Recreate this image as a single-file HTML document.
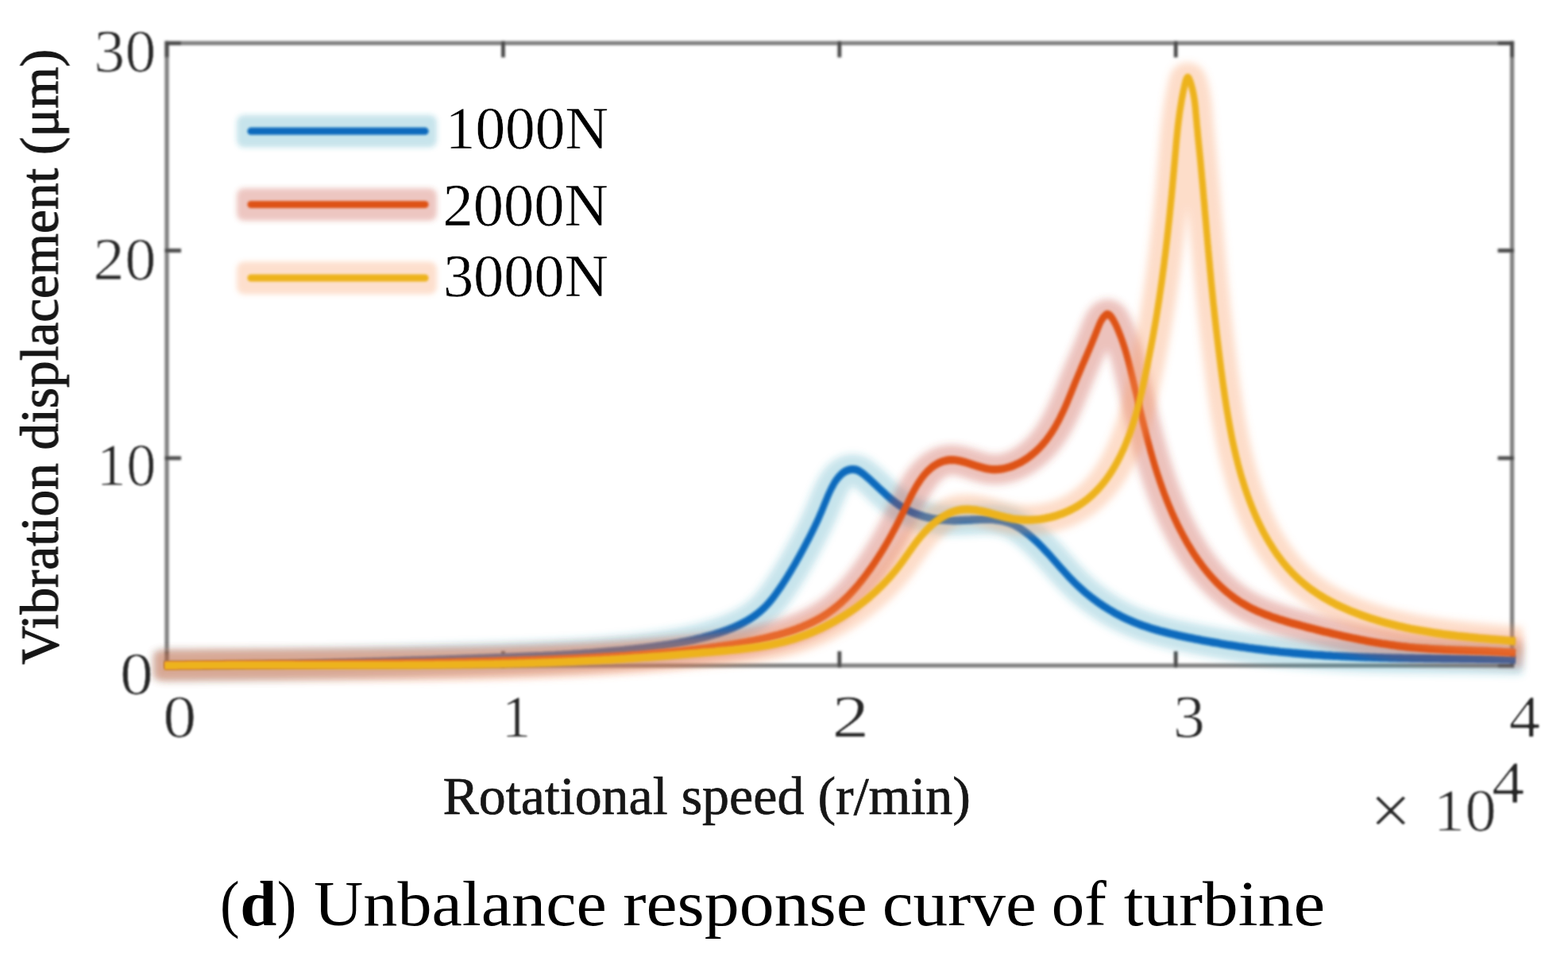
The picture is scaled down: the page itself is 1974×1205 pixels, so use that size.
<!DOCTYPE html>
<html lang="en">
<head>
<meta charset="utf-8">
<title>Unbalance response curve of turbine</title>
<style>
html,body{margin:0;padding:0;background:#fff;}
body{width:1974px;height:1205px;overflow:hidden;font-family:'Liberation Serif','DejaVu Serif',serif;}
svg{display:block;}
</style>
</head>
<body>
<svg width="1974" height="1205" viewBox="0 0 1974 1205" font-family="'Liberation Serif','DejaVu Serif',serif">
<defs><filter id="gb" filterUnits="userSpaceOnUse" x="-1300" y="-1300" width="4600" height="4600"><feGaussianBlur stdDeviation="4.6"/></filter><filter id="lg" filterUnits="userSpaceOnUse" x="-1300" y="-1300" width="4600" height="4600"><feGaussianBlur stdDeviation="3"/></filter><filter id="lb" filterUnits="userSpaceOnUse" x="-1300" y="-1300" width="4600" height="4600"><feGaussianBlur stdDeviation="1.5 1.7"/></filter><filter id="ab" filterUnits="userSpaceOnUse" x="-1300" y="-1300" width="4600" height="4600"><feGaussianBlur stdDeviation="1.35"/></filter><filter id="tb" filterUnits="userSpaceOnUse" x="-1300" y="-1300" width="4600" height="4600"><feGaussianBlur stdDeviation="0.7"/></filter><filter id="th" filterUnits="userSpaceOnUse" x="-1300" y="-1300" width="4600" height="4600"><feMorphology operator="erode" radius="1 0"/><feGaussianBlur stdDeviation="0.8"/></filter><clipPath id="gc"><rect x="194" y="0" width="1723" height="1205"/></clipPath></defs>
<rect width="1974" height="1205" fill="#fff"/>
<g filter="url(#ab)"><rect x="210.0" y="54.3" width="1693.6" height="783.7" fill="none" stroke="#808080" stroke-width="5.3"/><path d="M633.4,51.8 v20.5 M633.4,840.5 v-20.5 M1056.8,51.8 v20.5 M1056.8,840.5 v-20.5 M1480.2,51.8 v20.5 M1480.2,840.5 v-20.5 M207.5,576.8 h20.5 M1906.1,576.8 h-20.5 M207.5,315.5 h20.5 M1906.1,315.5 h-20.5 M207.5,54.3 h20.5 M210.0,51.8 v20.5 M1906.1,54.3 h-20.5 M1903.6,51.8 v20.5 M207.5,838.0 h20.5 M210.0,840.5 v-20.5 M1906.1,838.0 h-20.5 M1903.6,840.5 v-20.5" stroke="#484848" stroke-width="4.8" fill="none"/></g>
<g filter="url(#gb)" clip-path="none"><g clip-path="url(#gc)"><path transform="scale(1.12,1)" d="M184.8,837.5 L187.5,837.5 L190.2,837.5 L192.9,837.5 L195.5,837.5 L198.2,837.5 L200.9,837.5 L203.6,837.5 L206.2,837.5 L208.9,837.5 L211.6,837.5 L214.3,837.5 L216.9,837.5 L219.6,837.4 L222.3,837.4 L225.0,837.4 L227.7,837.4 L230.3,837.4 L233.0,837.4 L235.7,837.3 L238.4,837.3 L241.0,837.3 L243.7,837.3 L246.4,837.2 L249.1,837.2 L251.8,837.2 L254.4,837.1 L257.1,837.1 L259.8,837.1 L262.5,837.0 L265.1,837.0 L267.8,837.0 L270.5,836.9 L273.2,836.9 L275.9,836.9 L278.5,836.8 L281.2,836.8 L283.9,836.7 L286.6,836.7 L289.3,836.6 L291.9,836.6 L294.6,836.5 L297.3,836.5 L300.0,836.4 L302.6,836.4 L305.3,836.3 L308.0,836.3 L310.7,836.2 L313.4,836.2 L316.0,836.1 L318.7,836.0 L321.4,836.0 L324.1,835.9 L326.8,835.9 L329.4,835.8 L332.1,835.7 L334.8,835.7 L337.5,835.6 L340.1,835.5 L342.8,835.5 L345.5,835.4 L348.2,835.3 L350.9,835.3 L353.5,835.2 L356.2,835.1 L358.9,835.0 L361.6,835.0 L364.3,834.9 L366.9,834.8 L369.6,834.7 L372.3,834.7 L375.0,834.6 L377.7,834.5 L380.3,834.4 L383.0,834.4 L385.7,834.3 L388.4,834.2 L391.0,834.1 L393.7,834.0 L396.4,834.0 L399.1,833.9 L401.8,833.8 L404.4,833.7 L407.1,833.6 L409.8,833.5 L412.5,833.4 L415.2,833.4 L417.8,833.3 L420.5,833.2 L423.2,833.1 L425.9,833.0 L428.5,832.9 L431.2,832.8 L433.9,832.7 L436.6,832.6 L439.3,832.5 L441.9,832.4 L444.6,832.4 L447.3,832.3 L450.0,832.2 L452.6,832.1 L455.3,832.0 L458.0,831.9 L460.7,831.8 L463.4,831.7 L466.0,831.6 L468.7,831.5 L471.4,831.4 L474.1,831.3 L476.7,831.2 L479.4,831.1 L482.1,831.0 L484.8,830.9 L487.5,830.8 L490.1,830.7 L492.8,830.6 L495.5,830.5 L498.2,830.4 L500.8,830.3 L503.5,830.2 L506.2,830.1 L508.9,830.0 L511.6,829.9 L514.2,829.8 L516.9,829.7 L519.6,829.6 L522.3,829.5 L524.9,829.4 L527.6,829.3 L530.3,829.2 L533.0,829.1 L535.6,829.0 L538.3,828.9 L541.0,828.8 L543.7,828.7 L546.3,828.6 L549.0,828.5 L551.7,828.4 L554.4,828.3 L557.0,828.2 L559.7,828.1 L562.4,828.0 L565.1,827.8 L567.7,827.7 L570.4,827.6 L573.1,827.5 L575.8,827.4 L578.4,827.3 L581.1,827.2 L583.8,827.1 L586.5,826.9 L589.1,826.8 L591.8,826.7 L594.5,826.6 L597.2,826.4 L599.8,826.3 L602.5,826.2 L605.2,826.0 L607.9,825.9 L610.5,825.8 L613.2,825.6 L615.9,825.5 L618.6,825.3 L621.2,825.2 L623.9,825.0 L626.6,824.9 L629.3,824.7 L631.9,824.5 L634.6,824.4 L637.3,824.2 L639.9,824.0 L642.6,823.8 L645.3,823.7 L648.0,823.5 L650.6,823.3 L653.3,823.1 L656.0,822.9 L658.7,822.7 L661.3,822.5 L664.0,822.3 L666.7,822.0 L669.3,821.8 L672.0,821.6 L674.7,821.4 L677.3,821.1 L680.0,820.9 L682.7,820.6 L685.4,820.4 L688.0,820.1 L690.7,819.8 L693.4,819.6 L696.0,819.3 L698.7,819.0 L701.4,818.7 L704.0,818.4 L706.7,818.1 L709.4,817.8 L712.1,817.5 L714.7,817.2 L717.4,816.9 L720.1,816.5 L722.7,816.2 L725.4,815.8 L728.1,815.5 L730.7,815.1 L733.4,814.7 L736.1,814.3 L738.7,813.9 L741.4,813.5 L744.0,813.1 L746.7,812.6 L749.3,812.2 L752.0,811.7 L754.6,811.2 L757.3,810.7 L759.9,810.2 L762.6,809.7 L765.2,809.1 L767.8,808.6 L770.4,808.0 L773.1,807.4 L775.7,806.8 L778.3,806.1 L780.9,805.5 L783.5,804.8 L786.1,804.1 L788.7,803.3 L791.3,802.6 L793.9,801.8 L796.5,801.0 L799.0,800.2 L801.6,799.3 L804.2,798.4 L806.7,797.5 L809.3,796.6 L811.8,795.6 L814.3,794.6 L816.8,793.6 L819.3,792.5 L821.8,791.4 L824.3,790.2 L826.7,789.0 L829.1,787.8 L831.5,786.5 L833.9,785.2 L836.2,783.8 L838.5,782.3 L840.8,780.8 L843.1,779.3 L845.3,777.6 L847.5,776.0 L849.6,774.2 L851.7,772.4 L853.8,770.5 L855.8,768.6 L857.8,766.6 L859.7,764.5 L861.6,762.3 L863.4,760.1 L865.2,757.8 L867.0,755.4 L868.7,753.0 L870.3,750.5 L872.0,748.0 L873.6,745.5 L875.2,742.9 L876.7,740.4 L878.3,737.8 L879.8,735.3 L881.3,732.7 L882.7,730.1 L884.2,727.6 L885.6,725.0 L887.0,722.4 L888.4,719.8 L889.8,717.2 L891.2,714.7 L892.5,712.1 L893.8,709.5 L895.2,706.9 L896.5,704.3 L897.7,701.8 L899.0,699.2 L900.3,696.6 L901.5,694.1 L902.7,691.5 L904.0,688.9 L905.2,686.4 L906.4,683.8 L907.5,681.3 L908.7,678.8 L909.9,676.2 L911.0,673.7 L912.2,671.1 L913.3,668.6 L914.5,666.0 L915.6,663.4 L916.7,660.8 L917.8,658.1 L918.9,655.4 L920.1,652.7 L921.2,649.9 L922.3,647.1 L923.4,644.2 L924.5,641.3 L925.5,638.3 L926.7,635.2 L927.8,632.2 L928.9,629.1 L930.0,626.0 L931.2,622.9 L932.4,619.9 L933.6,617.0 L934.9,614.1 L936.2,611.3 L937.6,608.6 L939.1,606.0 L940.5,603.6 L942.1,601.3 L943.7,599.2 L945.4,597.3 L947.2,595.6 L949.1,594.2 L951.1,592.9 L953.2,592.0 L955.3,591.3 L957.5,591.0 L959.8,591.0 L962.1,591.5 L964.4,592.4 L966.7,593.8 L969.0,595.6 L971.3,597.6 L973.6,599.7 L975.8,601.9 L977.9,604.0 L980.1,606.2 L982.2,608.4 L984.2,610.5 L986.3,612.7 L988.3,614.8 L990.3,617.0 L992.3,619.1 L994.3,621.1 L996.3,623.2 L998.3,625.2 L1000.3,627.1 L1002.3,629.0 L1004.3,630.9 L1006.4,632.7 L1008.5,634.4 L1010.7,636.1 L1012.8,637.7 L1015.1,639.2 L1017.3,640.7 L1019.6,642.0 L1021.9,643.4 L1024.3,644.6 L1026.7,645.8 L1029.1,646.9 L1031.6,647.9 L1034.1,648.9 L1036.6,649.8 L1039.2,650.6 L1041.7,651.3 L1044.3,652.0 L1046.9,652.6 L1049.6,653.2 L1052.2,653.7 L1054.9,654.1 L1057.5,654.5 L1060.2,654.8 L1062.9,655.0 L1065.7,655.2 L1068.4,655.3 L1071.1,655.3 L1073.9,655.3 L1076.6,655.3 L1079.3,655.2 L1082.1,655.1 L1084.8,654.9 L1087.6,654.8 L1090.3,654.6 L1093.1,654.4 L1095.8,654.3 L1098.5,654.1 L1101.2,654.0 L1104.0,653.9 L1106.6,653.9 L1109.3,653.9 L1112.0,654.0 L1114.6,654.1 L1117.3,654.3 L1119.9,654.6 L1122.5,655.0 L1125.1,655.5 L1127.6,656.0 L1130.1,656.8 L1132.6,657.6 L1135.1,658.5 L1137.5,659.6 L1139.9,660.9 L1142.3,662.3 L1144.6,663.8 L1146.9,665.4 L1149.2,667.2 L1151.4,669.0 L1153.6,670.8 L1155.8,672.8 L1157.9,674.7 L1159.9,676.7 L1162.0,678.7 L1163.9,680.8 L1165.9,682.8 L1167.8,684.9 L1169.7,687.1 L1171.6,689.2 L1173.4,691.3 L1175.2,693.5 L1177.0,695.7 L1178.8,697.9 L1180.6,700.1 L1182.4,702.3 L1184.1,704.5 L1185.9,706.7 L1187.6,709.0 L1189.4,711.2 L1191.1,713.4 L1192.9,715.6 L1194.6,717.9 L1196.4,720.1 L1198.2,722.3 L1200.0,724.5 L1201.8,726.6 L1203.7,728.8 L1205.5,731.0 L1207.4,733.1 L1209.3,735.2 L1211.3,737.3 L1213.2,739.3 L1215.2,741.4 L1217.3,743.4 L1219.3,745.4 L1221.4,747.3 L1223.5,749.3 L1225.6,751.2 L1227.8,753.1 L1230.0,754.9 L1232.2,756.7 L1234.4,758.5 L1236.6,760.3 L1238.9,762.0 L1241.2,763.7 L1243.5,765.3 L1245.8,767.0 L1248.1,768.5 L1250.4,770.1 L1252.8,771.6 L1255.2,773.1 L1257.6,774.5 L1259.9,775.9 L1262.3,777.2 L1264.8,778.5 L1267.2,779.8 L1269.6,781.0 L1272.0,782.2 L1274.5,783.3 L1276.9,784.5 L1279.4,785.5 L1281.9,786.6 L1284.3,787.6 L1286.8,788.5 L1289.3,789.5 L1291.8,790.4 L1294.3,791.3 L1296.8,792.1 L1299.3,793.0 L1301.9,793.8 L1304.4,794.6 L1306.9,795.3 L1309.5,796.1 L1312.0,796.8 L1314.6,797.5 L1317.1,798.2 L1319.7,798.9 L1322.3,799.5 L1324.9,800.2 L1327.5,800.8 L1330.0,801.4 L1332.6,802.0 L1335.2,802.6 L1337.8,803.2 L1340.4,803.8 L1343.1,804.4 L1345.7,805.0 L1348.3,805.6 L1350.9,806.1 L1353.6,806.7 L1356.2,807.2 L1358.8,807.8 L1361.5,808.3 L1364.1,808.8 L1366.8,809.4 L1369.4,809.9 L1372.1,810.4 L1374.7,810.9 L1377.4,811.4 L1380.0,811.9 L1382.7,812.3 L1385.4,812.8 L1388.0,813.3 L1390.7,813.7 L1393.4,814.2 L1396.0,814.6 L1398.7,815.1 L1401.4,815.5 L1404.1,815.9 L1406.8,816.3 L1409.4,816.7 L1412.1,817.1 L1414.8,817.5 L1417.5,817.9 L1420.2,818.2 L1422.9,818.6 L1425.5,819.0 L1428.2,819.3 L1430.9,819.7 L1433.6,820.0 L1436.3,820.3 L1439.0,820.6 L1441.6,820.9 L1444.3,821.2 L1447.0,821.5 L1449.7,821.8 L1452.4,822.1 L1455.0,822.4 L1457.7,822.6 L1460.4,822.9 L1463.1,823.1 L1465.8,823.4 L1468.4,823.6 L1471.1,823.9 L1473.8,824.1 L1476.4,824.3 L1479.1,824.5 L1481.8,824.7 L1484.5,824.9 L1487.1,825.1 L1489.8,825.3 L1492.5,825.5 L1495.1,825.6 L1497.8,825.8 L1500.5,826.0 L1503.1,826.1 L1505.8,826.3 L1508.5,826.4 L1511.1,826.5 L1513.8,826.7 L1516.5,826.8 L1519.1,826.9 L1521.8,827.1 L1524.5,827.2 L1527.1,827.3 L1529.8,827.4 L1532.5,827.5 L1535.1,827.6 L1537.8,827.7 L1540.5,827.8 L1543.1,827.9 L1545.8,827.9 L1548.5,828.0 L1551.1,828.1 L1553.8,828.2 L1556.4,828.2 L1559.1,828.3 L1561.8,828.4 L1564.4,828.4 L1567.1,828.5 L1569.8,828.6 L1572.4,828.6 L1575.1,828.7 L1577.8,828.7 L1580.4,828.8 L1583.1,828.8 L1585.8,828.8 L1588.4,828.9 L1591.1,828.9 L1593.8,829.0 L1596.4,829.0 L1599.1,829.0 L1601.8,829.1 L1604.4,829.1 L1607.1,829.1 L1609.8,829.2 L1612.4,829.2 L1615.1,829.2 L1617.8,829.3 L1620.5,829.3 L1623.1,829.3 L1625.8,829.4 L1628.5,829.4 L1631.2,829.4 L1633.8,829.5 L1636.5,829.5 L1639.2,829.5 L1641.9,829.5 L1644.5,829.6 L1647.2,829.6 L1649.9,829.6 L1652.6,829.7 L1655.3,829.7 L1658.0,829.8 L1660.6,829.8 L1663.3,829.8 L1666.0,829.9 L1668.7,829.9 L1671.4,830.0 L1674.1,830.0 L1676.8,830.1 L1679.5,830.1 L1682.2,830.2 L1684.8,830.2 L1687.5,830.3 L1690.2,830.3 L1692.9,830.4 L1695.6,830.5 L1698.3,830.6 L1701.0,830.6 L1703.6,830.7" fill="none" stroke="#2a9cb8" stroke-opacity="0.27" stroke-width="38.0" stroke-linecap="round" stroke-linejoin="round"/></g></g>
<g filter="url(#lb)"><path transform="scale(1,1.22)" d="M207.0,686.5 L210.0,686.5 L213.0,686.5 L216.0,686.5 L219.0,686.5 L222.0,686.5 L225.0,686.5 L228.0,686.5 L231.0,686.5 L234.0,686.5 L237.0,686.5 L240.0,686.5 L243.0,686.4 L246.0,686.4 L249.0,686.4 L252.0,686.4 L255.0,686.4 L258.0,686.4 L261.0,686.4 L264.0,686.3 L267.0,686.3 L270.0,686.3 L273.0,686.3 L276.0,686.3 L279.0,686.2 L282.0,686.2 L285.0,686.2 L288.0,686.2 L291.0,686.1 L294.0,686.1 L297.0,686.1 L300.0,686.0 L303.0,686.0 L306.0,686.0 L309.0,685.9 L312.0,685.9 L315.0,685.9 L318.0,685.8 L321.0,685.8 L324.0,685.8 L327.0,685.7 L330.0,685.7 L333.0,685.6 L336.0,685.6 L339.0,685.6 L342.0,685.5 L345.0,685.5 L348.0,685.4 L351.0,685.4 L354.0,685.3 L357.0,685.3 L360.0,685.2 L363.0,685.2 L366.0,685.1 L369.0,685.1 L372.0,685.0 L375.0,685.0 L378.0,684.9 L381.0,684.9 L384.0,684.8 L387.0,684.8 L390.0,684.7 L393.0,684.6 L396.0,684.6 L399.0,684.5 L402.0,684.5 L405.0,684.4 L408.0,684.3 L411.0,684.3 L414.0,684.2 L417.0,684.2 L420.0,684.1 L423.0,684.0 L426.0,684.0 L429.0,683.9 L432.0,683.8 L435.0,683.8 L438.0,683.7 L441.0,683.6 L444.0,683.6 L447.0,683.5 L450.0,683.4 L453.0,683.4 L456.0,683.3 L459.0,683.2 L462.0,683.1 L465.0,683.1 L468.0,683.0 L471.0,682.9 L474.0,682.9 L477.0,682.8 L480.0,682.7 L483.0,682.6 L486.0,682.6 L489.0,682.5 L492.0,682.4 L495.0,682.3 L498.0,682.3 L501.0,682.2 L504.0,682.1 L507.0,682.0 L510.0,681.9 L513.0,681.9 L516.0,681.8 L519.0,681.7 L522.0,681.6 L525.0,681.6 L528.0,681.5 L531.0,681.4 L534.0,681.3 L537.0,681.2 L540.0,681.2 L543.0,681.1 L546.0,681.0 L549.0,680.9 L552.0,680.8 L554.9,680.7 L557.9,680.7 L560.9,680.6 L563.9,680.5 L566.9,680.4 L569.9,680.3 L572.9,680.3 L575.9,680.2 L578.9,680.1 L581.9,680.0 L584.9,679.9 L587.9,679.8 L590.9,679.8 L593.9,679.7 L596.9,679.6 L599.9,679.5 L602.9,679.4 L605.9,679.3 L608.9,679.3 L611.9,679.2 L614.9,679.1 L617.9,679.0 L620.9,678.9 L623.9,678.8 L626.9,678.7 L629.9,678.7 L632.9,678.6 L635.9,678.5 L638.9,678.4 L641.9,678.3 L644.9,678.2 L647.9,678.1 L650.9,678.0 L653.9,677.9 L656.9,677.8 L659.8,677.7 L662.8,677.6 L665.8,677.5 L668.8,677.4 L671.8,677.3 L674.8,677.2 L677.8,677.1 L680.8,677.0 L683.8,676.9 L686.8,676.7 L689.8,676.6 L692.8,676.5 L695.8,676.4 L698.8,676.3 L701.8,676.1 L704.8,676.0 L707.8,675.9 L710.8,675.7 L713.7,675.6 L716.7,675.4 L719.7,675.3 L722.7,675.1 L725.7,675.0 L728.7,674.8 L731.7,674.7 L734.7,674.5 L737.7,674.3 L740.7,674.2 L743.7,674.0 L746.7,673.8 L749.7,673.6 L752.6,673.4 L755.6,673.2 L758.6,673.0 L761.6,672.8 L764.6,672.6 L767.6,672.4 L770.6,672.2 L773.6,672.0 L776.6,671.8 L779.6,671.6 L782.6,671.3 L785.5,671.1 L788.5,670.8 L791.5,670.6 L794.5,670.3 L797.5,670.1 L800.5,669.8 L803.5,669.6 L806.5,669.3 L809.5,669.0 L812.4,668.7 L815.4,668.4 L818.4,668.1 L821.4,667.8 L824.4,667.5 L827.4,667.1 L830.3,666.8 L833.3,666.5 L836.3,666.1 L839.3,665.7 L842.2,665.3 L845.2,664.9 L848.2,664.5 L851.1,664.1 L854.1,663.7 L857.0,663.2 L860.0,662.8 L862.9,662.3 L865.8,661.8 L868.8,661.3 L871.7,660.8 L874.6,660.2 L877.5,659.6 L880.5,659.1 L883.4,658.5 L886.3,657.8 L889.2,657.2 L892.0,656.5 L894.9,655.9 L897.8,655.2 L900.7,654.4 L903.5,653.7 L906.4,652.9 L909.2,652.1 L912.0,651.3 L914.9,650.5 L917.6,649.6 L920.4,648.7 L923.2,647.7 L925.9,646.7 L928.6,645.7 L931.3,644.7 L933.9,643.6 L936.6,642.4 L939.2,641.2 L941.7,640.0 L944.2,638.7 L946.7,637.4 L949.2,636.0 L951.6,634.6 L953.9,633.1 L956.2,631.6 L958.5,630.0 L960.7,628.3 L962.9,626.6 L965.0,624.8 L967.0,623.0 L969.0,621.1 L971.0,619.2 L972.9,617.2 L974.8,615.2 L976.6,613.1 L978.4,611.0 L980.2,609.0 L981.9,606.9 L983.7,604.8 L985.4,602.7 L987.0,600.6 L988.7,598.5 L990.3,596.4 L991.9,594.2 L993.5,592.1 L995.1,590.0 L996.6,587.9 L998.1,585.8 L999.6,583.7 L1001.1,581.6 L1002.6,579.4 L1004.0,577.3 L1005.5,575.2 L1006.9,573.1 L1008.3,571.0 L1009.7,568.9 L1011.1,566.8 L1012.4,564.7 L1013.8,562.6 L1015.1,560.5 L1016.4,558.4 L1017.8,556.4 L1019.1,554.3 L1020.4,552.2 L1021.7,550.1 L1022.9,548.0 L1024.2,545.9 L1025.5,543.8 L1026.7,541.6 L1028.0,539.5 L1029.2,537.3 L1030.5,535.0 L1031.7,532.7 L1032.9,530.4 L1034.2,528.1 L1035.4,525.6 L1036.6,523.2 L1037.8,520.7 L1039.1,518.2 L1040.4,515.6 L1041.6,513.1 L1042.9,510.6 L1044.3,508.1 L1045.7,505.7 L1047.1,503.3 L1048.6,501.1 L1050.1,498.8 L1051.7,496.7 L1053.4,494.8 L1055.2,492.9 L1057.0,491.2 L1058.9,489.6 L1060.9,488.2 L1063.0,487.0 L1065.2,486.0 L1067.5,485.2 L1069.9,484.7 L1072.4,484.4 L1074.9,484.4 L1077.5,484.8 L1080.1,485.6 L1082.7,486.7 L1085.3,488.2 L1087.9,489.8 L1090.4,491.6 L1092.9,493.3 L1095.3,495.1 L1097.7,496.9 L1100.0,498.7 L1102.3,500.4 L1104.6,502.2 L1106.9,504.0 L1109.1,505.7 L1111.4,507.4 L1113.6,509.1 L1115.8,510.8 L1118.1,512.4 L1120.3,514.0 L1122.6,515.6 L1124.9,517.1 L1127.2,518.6 L1129.5,520.0 L1131.9,521.4 L1134.4,522.7 L1136.9,523.9 L1139.4,525.1 L1142.0,526.3 L1144.6,527.3 L1147.2,528.4 L1149.9,529.3 L1152.6,530.2 L1155.4,531.1 L1158.2,531.9 L1161.0,532.6 L1163.9,533.3 L1166.7,533.9 L1169.6,534.4 L1172.6,535.0 L1175.5,535.4 L1178.5,535.8 L1181.5,536.1 L1184.5,536.4 L1187.5,536.7 L1190.5,536.9 L1193.5,537.0 L1196.6,537.1 L1199.7,537.2 L1202.7,537.2 L1205.8,537.1 L1208.9,537.0 L1211.9,536.9 L1215.0,536.8 L1218.1,536.7 L1221.2,536.6 L1224.2,536.4 L1227.3,536.3 L1230.4,536.2 L1233.4,536.1 L1236.4,536.0 L1239.4,536.0 L1242.5,536.0 L1245.4,536.0 L1248.4,536.1 L1251.4,536.3 L1254.3,536.6 L1257.2,536.9 L1260.1,537.3 L1262.9,537.7 L1265.7,538.3 L1268.5,539.0 L1271.3,539.8 L1274.0,540.7 L1276.7,541.7 L1279.4,542.9 L1282.0,544.1 L1284.6,545.4 L1287.1,546.9 L1289.6,548.3 L1292.1,549.9 L1294.5,551.4 L1296.8,553.0 L1299.1,554.7 L1301.4,556.3 L1303.6,558.0 L1305.8,559.7 L1308.0,561.4 L1310.1,563.2 L1312.2,564.9 L1314.2,566.7 L1316.3,568.5 L1318.3,570.2 L1320.3,572.0 L1322.3,573.8 L1324.3,575.7 L1326.2,577.5 L1328.2,579.3 L1330.1,581.1 L1332.1,583.0 L1334.1,584.8 L1336.0,586.6 L1338.0,588.4 L1340.0,590.2 L1342.0,592.0 L1344.0,593.8 L1346.0,595.6 L1348.1,597.4 L1350.2,599.1 L1352.3,600.9 L1354.4,602.6 L1356.6,604.3 L1358.8,606.0 L1361.1,607.7 L1363.3,609.3 L1365.6,611.0 L1368.0,612.6 L1370.3,614.2 L1372.7,615.7 L1375.1,617.3 L1377.6,618.8 L1380.0,620.3 L1382.5,621.7 L1385.0,623.2 L1387.6,624.6 L1390.1,626.0 L1392.7,627.3 L1395.3,628.7 L1397.9,629.9 L1400.5,631.2 L1403.1,632.5 L1405.8,633.7 L1408.5,634.8 L1411.1,636.0 L1413.8,637.1 L1416.5,638.1 L1419.2,639.2 L1422.0,640.2 L1424.7,641.1 L1427.4,642.1 L1430.2,643.0 L1432.9,643.9 L1435.7,644.7 L1438.5,645.5 L1441.2,646.3 L1444.0,647.1 L1446.8,647.9 L1449.6,648.6 L1452.4,649.3 L1455.3,650.0 L1458.1,650.6 L1460.9,651.3 L1463.8,651.9 L1466.6,652.5 L1469.5,653.1 L1472.3,653.7 L1475.2,654.2 L1478.1,654.8 L1481.0,655.3 L1483.9,655.9 L1486.7,656.4 L1489.6,656.9 L1492.5,657.4 L1495.5,657.9 L1498.4,658.4 L1501.3,658.9 L1504.2,659.4 L1507.2,659.8 L1510.1,660.3 L1513.0,660.8 L1516.0,661.2 L1518.9,661.7 L1521.9,662.1 L1524.8,662.6 L1527.8,663.0 L1530.8,663.4 L1533.7,663.8 L1536.7,664.3 L1539.7,664.7 L1542.7,665.1 L1545.6,665.5 L1548.6,665.9 L1551.6,666.2 L1554.6,666.6 L1557.6,667.0 L1560.6,667.4 L1563.6,667.7 L1566.6,668.1 L1569.6,668.4 L1572.6,668.8 L1575.6,669.1 L1578.6,669.4 L1581.6,669.8 L1584.6,670.1 L1587.6,670.4 L1590.6,670.7 L1593.6,671.0 L1596.6,671.3 L1599.6,671.6 L1602.6,671.8 L1605.6,672.1 L1608.6,672.4 L1611.6,672.7 L1614.6,672.9 L1617.6,673.2 L1620.6,673.4 L1623.6,673.6 L1626.7,673.9 L1629.7,674.1 L1632.7,674.3 L1635.6,674.5 L1638.6,674.7 L1641.6,674.9 L1644.6,675.1 L1647.6,675.3 L1650.6,675.5 L1653.6,675.7 L1656.6,675.8 L1659.6,676.0 L1662.6,676.1 L1665.6,676.3 L1668.6,676.5 L1671.6,676.6 L1674.6,676.7 L1677.5,676.9 L1680.5,677.0 L1683.5,677.1 L1686.5,677.3 L1689.5,677.4 L1692.5,677.5 L1695.5,677.6 L1698.5,677.7 L1701.4,677.8 L1704.4,677.9 L1707.4,678.0 L1710.4,678.1 L1713.4,678.2 L1716.4,678.3 L1719.4,678.4 L1722.3,678.4 L1725.3,678.5 L1728.3,678.6 L1731.3,678.6 L1734.3,678.7 L1737.3,678.8 L1740.2,678.8 L1743.2,678.9 L1746.2,678.9 L1749.2,679.0 L1752.2,679.1 L1755.2,679.1 L1758.1,679.1 L1761.1,679.2 L1764.1,679.2 L1767.1,679.3 L1770.1,679.3 L1773.1,679.3 L1776.1,679.4 L1779.0,679.4 L1782.0,679.5 L1785.0,679.5 L1788.0,679.5 L1791.0,679.5 L1794.0,679.6 L1797.0,679.6 L1800.0,679.6 L1803.0,679.7 L1805.9,679.7 L1808.9,679.7 L1811.9,679.7 L1814.9,679.8 L1817.9,679.8 L1820.9,679.8 L1823.9,679.8 L1826.9,679.9 L1829.9,679.9 L1832.9,679.9 L1835.9,679.9 L1838.9,680.0 L1841.9,680.0 L1844.9,680.0 L1847.9,680.0 L1850.9,680.1 L1853.9,680.1 L1856.9,680.1 L1859.9,680.2 L1862.9,680.2 L1865.9,680.2 L1868.9,680.3 L1872.0,680.3 L1875.0,680.3 L1878.0,680.4 L1881.0,680.4 L1884.0,680.5 L1887.0,680.5 L1890.0,680.6 L1893.1,680.6 L1896.1,680.7 L1899.1,680.7 L1902.1,680.8 L1905.2,680.8 L1908.0,680.9" fill="none" stroke="#0a6bbd" stroke-width="8.3" stroke-linejoin="round"/></g>
<g filter="url(#gb)" clip-path="none"><g clip-path="url(#gc)"><path transform="scale(1.12,1)" d="M184.8,837.8 L187.5,837.8 L190.2,837.7 L192.9,837.7 L195.6,837.6 L198.3,837.6 L201.0,837.6 L203.7,837.5 L206.3,837.5 L209.0,837.5 L211.7,837.4 L214.4,837.4 L217.1,837.4 L219.8,837.3 L222.5,837.3 L225.2,837.3 L227.9,837.2 L230.5,837.2 L233.2,837.2 L235.9,837.1 L238.6,837.1 L241.3,837.1 L244.0,837.0 L246.7,837.0 L249.3,837.0 L252.0,837.0 L254.7,836.9 L257.4,836.9 L260.1,836.9 L262.8,836.9 L265.4,836.8 L268.1,836.8 L270.8,836.8 L273.5,836.7 L276.2,836.7 L278.9,836.7 L281.5,836.7 L284.2,836.6 L286.9,836.6 L289.6,836.6 L292.3,836.6 L294.9,836.5 L297.6,836.5 L300.3,836.5 L303.0,836.5 L305.7,836.5 L308.3,836.4 L311.0,836.4 L313.7,836.4 L316.4,836.4 L319.1,836.3 L321.7,836.3 L324.4,836.3 L327.1,836.3 L329.8,836.2 L332.4,836.2 L335.1,836.2 L337.8,836.2 L340.5,836.1 L343.2,836.1 L345.8,836.1 L348.5,836.1 L351.2,836.0 L353.9,836.0 L356.5,836.0 L359.2,836.0 L361.9,835.9 L364.6,835.9 L367.2,835.9 L369.9,835.9 L372.6,835.8 L375.3,835.8 L377.9,835.8 L380.6,835.8 L383.3,835.7 L386.0,835.7 L388.6,835.7 L391.3,835.6 L394.0,835.6 L396.7,835.6 L399.3,835.5 L402.0,835.5 L404.7,835.5 L407.3,835.5 L410.0,835.4 L412.7,835.4 L415.4,835.4 L418.0,835.3 L420.7,835.3 L423.4,835.3 L426.1,835.2 L428.7,835.2 L431.4,835.1 L434.1,835.1 L436.7,835.1 L439.4,835.0 L442.1,835.0 L444.8,835.0 L447.4,834.9 L450.1,834.9 L452.8,834.8 L455.5,834.8 L458.1,834.7 L460.8,834.7 L463.5,834.7 L466.1,834.6 L468.8,834.6 L471.5,834.5 L474.1,834.5 L476.8,834.4 L479.5,834.4 L482.2,834.3 L484.8,834.3 L487.5,834.2 L490.2,834.2 L492.8,834.1 L495.5,834.1 L498.2,834.0 L500.9,834.0 L503.5,833.9 L506.2,833.8 L508.9,833.8 L511.5,833.7 L514.2,833.7 L516.9,833.6 L519.6,833.5 L522.2,833.5 L524.9,833.4 L527.6,833.3 L530.2,833.3 L532.9,833.2 L535.6,833.1 L538.3,833.1 L540.9,833.0 L543.6,832.9 L546.3,832.8 L548.9,832.8 L551.6,832.7 L554.3,832.6 L557.0,832.5 L559.6,832.4 L562.3,832.4 L565.0,832.3 L567.6,832.2 L570.3,832.1 L573.0,832.0 L575.6,831.9 L578.3,831.8 L581.0,831.7 L583.7,831.6 L586.3,831.6 L589.0,831.5 L591.7,831.4 L594.4,831.3 L597.0,831.2 L599.7,831.1 L602.4,831.0 L605.0,830.9 L607.7,830.7 L610.4,830.6 L613.1,830.5 L615.7,830.4 L618.4,830.3 L621.1,830.2 L623.8,830.1 L626.4,830.0 L629.1,829.8 L631.8,829.7 L634.4,829.6 L637.1,829.5 L639.8,829.4 L642.5,829.2 L645.1,829.1 L647.8,829.0 L650.5,828.8 L653.2,828.7 L655.8,828.5 L658.5,828.4 L661.2,828.3 L663.9,828.1 L666.5,828.0 L669.2,827.8 L671.9,827.7 L674.6,827.5 L677.2,827.3 L679.9,827.2 L682.6,827.0 L685.3,826.8 L687.9,826.6 L690.6,826.5 L693.3,826.3 L696.0,826.1 L698.7,825.9 L701.3,825.7 L704.0,825.5 L706.7,825.3 L709.4,825.1 L712.0,824.9 L714.7,824.7 L717.4,824.5 L720.1,824.2 L722.8,824.0 L725.4,823.8 L728.1,823.5 L730.8,823.3 L733.5,823.1 L736.2,822.8 L738.8,822.6 L741.5,822.3 L744.2,822.0 L746.9,821.8 L749.6,821.5 L752.2,821.2 L754.9,820.9 L757.6,820.6 L760.3,820.3 L763.0,820.0 L765.7,819.7 L768.3,819.4 L771.0,819.1 L773.7,818.7 L776.4,818.4 L779.1,818.1 L781.8,817.7 L784.4,817.4 L787.1,817.0 L789.8,816.6 L792.5,816.3 L795.2,815.9 L797.9,815.5 L800.6,815.1 L803.2,814.7 L805.9,814.3 L808.6,813.9 L811.3,813.5 L814.0,813.0 L816.7,812.6 L819.4,812.2 L822.0,811.7 L824.7,811.2 L827.4,810.7 L830.1,810.3 L832.7,809.8 L835.4,809.2 L838.1,808.7 L840.7,808.2 L843.4,807.6 L846.0,807.0 L848.6,806.4 L851.3,805.8 L853.9,805.2 L856.5,804.6 L859.1,803.9 L861.7,803.2 L864.3,802.5 L866.9,801.8 L869.4,801.1 L872.0,800.3 L874.6,799.6 L877.1,798.8 L879.6,797.9 L882.1,797.1 L884.6,796.2 L887.1,795.3 L889.6,794.4 L892.1,793.4 L894.5,792.5 L897.0,791.4 L899.4,790.4 L901.8,789.3 L904.2,788.2 L906.5,787.0 L908.9,785.8 L911.2,784.6 L913.6,783.3 L915.9,782.0 L918.2,780.6 L920.4,779.2 L922.7,777.7 L924.9,776.2 L927.1,774.7 L929.3,773.1 L931.5,771.4 L933.6,769.7 L935.7,768.0 L937.9,766.2 L939.9,764.3 L942.0,762.4 L944.0,760.4 L946.1,758.4 L948.0,756.3 L950.0,754.2 L952.0,752.1 L953.9,749.9 L955.8,747.7 L957.7,745.4 L959.5,743.1 L961.4,740.8 L963.2,738.4 L965.0,736.0 L966.7,733.6 L968.5,731.2 L970.2,728.7 L971.9,726.3 L973.6,723.8 L975.2,721.3 L976.8,718.8 L978.4,716.2 L980.0,713.7 L981.6,711.1 L983.1,708.6 L984.6,706.0 L986.1,703.5 L987.6,700.9 L989.0,698.4 L990.4,695.8 L991.8,693.3 L993.2,690.8 L994.5,688.3 L995.9,685.7 L997.2,683.2 L998.4,680.7 L999.7,678.2 L1001.0,675.7 L1002.2,673.2 L1003.4,670.7 L1004.6,668.1 L1005.9,665.6 L1007.0,663.0 L1008.2,660.5 L1009.4,657.9 L1010.6,655.3 L1011.8,652.7 L1013.0,650.0 L1014.1,647.4 L1015.3,644.7 L1016.5,642.0 L1017.7,639.2 L1018.9,636.4 L1020.1,633.6 L1021.3,630.8 L1022.5,628.0 L1023.8,625.2 L1025.1,622.4 L1026.4,619.6 L1027.7,616.8 L1029.1,614.1 L1030.5,611.4 L1031.9,608.7 L1033.4,606.2 L1035.0,603.6 L1036.6,601.2 L1038.2,598.8 L1040.0,596.5 L1041.7,594.4 L1043.6,592.3 L1045.5,590.3 L1047.5,588.5 L1049.5,586.7 L1051.7,585.2 L1053.9,583.8 L1056.1,582.5 L1058.4,581.4 L1060.8,580.5 L1063.2,579.9 L1065.7,579.4 L1068.2,579.1 L1070.7,579.1 L1073.3,579.3 L1075.9,579.7 L1078.6,580.3 L1081.2,580.9 L1083.9,581.8 L1086.6,582.7 L1089.3,583.6 L1092.1,584.6 L1094.8,585.6 L1097.6,586.6 L1100.3,587.6 L1103.1,588.5 L1105.8,589.3 L1108.6,589.9 L1111.3,590.5 L1114.0,590.8 L1116.7,591.0 L1119.3,591.1 L1122.0,590.9 L1124.6,590.7 L1127.2,590.2 L1129.8,589.7 L1132.3,588.9 L1134.8,588.1 L1137.3,587.2 L1139.8,586.1 L1142.2,584.9 L1144.6,583.6 L1146.9,582.3 L1149.3,580.8 L1151.5,579.3 L1153.8,577.6 L1156.0,575.9 L1158.1,574.1 L1160.2,572.3 L1162.3,570.4 L1164.3,568.4 L1166.2,566.3 L1168.1,564.2 L1170.0,562.0 L1171.8,559.8 L1173.5,557.6 L1175.2,555.3 L1176.9,552.9 L1178.5,550.5 L1180.0,548.1 L1181.5,545.6 L1183.0,543.1 L1184.4,540.5 L1185.8,537.9 L1187.1,535.3 L1188.4,532.7 L1189.7,530.0 L1190.9,527.4 L1192.2,524.7 L1193.3,521.9 L1194.5,519.2 L1195.6,516.4 L1196.7,513.7 L1197.8,510.9 L1198.9,508.1 L1200.0,505.3 L1201.0,502.5 L1202.0,499.7 L1203.1,496.9 L1204.1,494.1 L1205.1,491.3 L1206.1,488.6 L1207.1,485.8 L1208.1,483.0 L1209.1,480.3 L1210.1,477.5 L1211.1,474.8 L1212.1,472.1 L1213.1,469.4 L1214.1,466.7 L1215.1,464.0 L1216.1,461.3 L1217.2,458.7 L1218.2,456.0 L1219.2,453.3 L1220.3,450.6 L1221.3,447.8 L1222.4,445.1 L1223.4,442.4 L1224.5,439.6 L1225.5,436.8 L1226.6,434.0 L1227.6,431.1 L1228.7,428.2 L1229.7,425.3 L1230.8,422.4 L1231.9,419.4 L1233.0,416.3 L1234.0,413.3 L1235.1,410.2 L1236.3,407.3 L1237.5,404.5 L1238.8,401.9 L1240.2,399.6 L1241.8,397.7 L1243.4,396.3 L1245.0,395.8 L1246.6,396.3 L1248.2,397.8 L1249.6,399.9 L1251.0,402.3 L1252.4,404.9 L1253.6,407.7 L1254.9,410.6 L1256.0,413.6 L1257.2,416.6 L1258.2,419.5 L1259.3,422.5 L1260.3,425.4 L1261.2,428.4 L1262.1,431.3 L1263.0,434.2 L1263.8,437.1 L1264.6,440.0 L1265.4,442.9 L1266.2,445.8 L1266.9,448.7 L1267.6,451.6 L1268.3,454.5 L1268.9,457.4 L1269.6,460.3 L1270.2,463.2 L1270.9,466.1 L1271.5,468.9 L1272.1,471.8 L1272.7,474.7 L1273.4,477.6 L1274.0,480.5 L1274.6,483.4 L1275.2,486.3 L1275.8,489.2 L1276.4,492.1 L1277.0,495.0 L1277.6,497.9 L1278.3,500.8 L1278.9,503.7 L1279.5,506.6 L1280.1,509.5 L1280.7,512.4 L1281.3,515.3 L1281.9,518.2 L1282.6,521.1 L1283.2,524.1 L1283.8,527.0 L1284.5,529.9 L1285.1,532.8 L1285.7,535.7 L1286.4,538.6 L1287.0,541.5 L1287.7,544.4 L1288.3,547.3 L1289.0,550.2 L1289.7,553.1 L1290.4,555.9 L1291.1,558.8 L1291.8,561.7 L1292.5,564.6 L1293.2,567.5 L1293.9,570.4 L1294.6,573.2 L1295.4,576.1 L1296.1,579.0 L1296.9,581.9 L1297.6,584.7 L1298.4,587.6 L1299.2,590.5 L1300.0,593.3 L1300.8,596.2 L1301.6,599.0 L1302.5,601.8 L1303.3,604.7 L1304.2,607.5 L1305.1,610.4 L1306.0,613.2 L1306.9,616.0 L1307.8,618.8 L1308.7,621.6 L1309.7,624.4 L1310.6,627.2 L1311.6,630.0 L1312.6,632.8 L1313.6,635.6 L1314.6,638.4 L1315.7,641.1 L1316.7,643.9 L1317.8,646.7 L1318.9,649.4 L1320.0,652.2 L1321.2,654.9 L1322.3,657.6 L1323.5,660.4 L1324.7,663.1 L1325.9,665.8 L1327.1,668.5 L1328.4,671.2 L1329.6,673.9 L1330.9,676.5 L1332.3,679.2 L1333.6,681.9 L1335.0,684.5 L1336.3,687.1 L1337.7,689.7 L1339.2,692.3 L1340.6,694.9 L1342.1,697.4 L1343.6,700.0 L1345.1,702.5 L1346.6,705.0 L1348.2,707.4 L1349.8,709.9 L1351.4,712.3 L1353.0,714.7 L1354.7,717.1 L1356.4,719.4 L1358.1,721.7 L1359.8,724.0 L1361.6,726.3 L1363.4,728.5 L1365.2,730.7 L1367.0,732.8 L1368.9,735.0 L1370.8,737.1 L1372.7,739.1 L1374.6,741.1 L1376.6,743.1 L1378.6,745.0 L1380.6,746.9 L1382.7,748.8 L1384.7,750.6 L1386.8,752.3 L1389.0,754.1 L1391.1,755.7 L1393.3,757.4 L1395.5,758.9 L1397.8,760.5 L1400.1,761.9 L1402.4,763.4 L1404.7,764.8 L1407.1,766.1 L1409.4,767.4 L1411.8,768.7 L1414.3,769.9 L1416.7,771.1 L1419.2,772.2 L1421.7,773.3 L1424.2,774.4 L1426.7,775.5 L1429.2,776.5 L1431.7,777.5 L1434.3,778.5 L1436.9,779.4 L1439.4,780.3 L1442.0,781.2 L1444.6,782.1 L1447.2,783.0 L1449.8,783.8 L1452.5,784.6 L1455.1,785.5 L1457.7,786.3 L1460.3,787.1 L1462.9,787.9 L1465.6,788.6 L1468.2,789.4 L1470.8,790.2 L1473.4,790.9 L1476.0,791.7 L1478.6,792.5 L1481.2,793.2 L1483.9,793.9 L1486.5,794.7 L1489.1,795.4 L1491.7,796.1 L1494.3,796.8 L1496.9,797.5 L1499.5,798.2 L1502.1,798.9 L1504.7,799.6 L1507.3,800.2 L1509.9,800.9 L1512.5,801.5 L1515.1,802.2 L1517.8,802.8 L1520.4,803.4 L1523.0,804.0 L1525.6,804.6 L1528.2,805.2 L1530.8,805.8 L1533.4,806.3 L1536.0,806.9 L1538.6,807.4 L1541.3,807.9 L1543.9,808.5 L1546.5,809.0 L1549.1,809.5 L1551.7,809.9 L1554.4,810.4 L1557.0,810.9 L1559.6,811.3 L1562.3,811.7 L1564.9,812.2 L1567.5,812.6 L1570.2,812.9 L1572.8,813.3 L1575.5,813.7 L1578.1,814.0 L1580.8,814.4 L1583.4,814.7 L1586.1,815.0 L1588.7,815.3 L1591.4,815.5 L1594.1,815.8 L1596.7,816.0 L1599.4,816.3 L1602.1,816.5 L1604.8,816.7 L1607.5,816.9 L1610.1,817.1 L1612.8,817.2 L1615.5,817.4 L1618.2,817.5 L1620.9,817.7 L1623.6,817.8 L1626.3,818.0 L1629.0,818.1 L1631.7,818.2 L1634.4,818.3 L1637.0,818.5 L1639.7,818.6 L1642.4,818.7 L1645.1,818.8 L1647.8,818.9 L1650.5,819.0 L1653.2,819.1 L1655.9,819.2 L1658.6,819.3 L1661.3,819.4 L1664.0,819.5 L1666.6,819.6 L1669.3,819.8 L1672.0,819.9 L1674.7,820.0 L1677.4,820.2 L1680.0,820.3 L1682.7,820.5 L1685.4,820.6 L1688.0,820.8 L1690.7,821.0 L1693.3,821.2 L1696.0,821.4 L1698.6,821.6 L1701.3,821.8 L1703.6,822.0" fill="none" stroke="#c64434" stroke-opacity="0.33" stroke-width="38.0" stroke-linecap="round" stroke-linejoin="round"/></g></g>
<g filter="url(#lb)"><path transform="scale(1,1.22)" d="M207.0,686.7 L210.0,686.7 L213.0,686.7 L216.0,686.6 L219.1,686.6 L222.1,686.6 L225.1,686.5 L228.1,686.5 L231.1,686.5 L234.1,686.4 L237.1,686.4 L240.1,686.4 L243.2,686.4 L246.2,686.3 L249.2,686.3 L252.2,686.3 L255.2,686.3 L258.2,686.2 L261.2,686.2 L264.2,686.2 L267.2,686.2 L270.2,686.1 L273.2,686.1 L276.3,686.1 L279.3,686.1 L282.3,686.0 L285.3,686.0 L288.3,686.0 L291.3,686.0 L294.3,685.9 L297.3,685.9 L300.3,685.9 L303.3,685.9 L306.3,685.9 L309.3,685.8 L312.3,685.8 L315.3,685.8 L318.3,685.8 L321.3,685.8 L324.3,685.7 L327.3,685.7 L330.3,685.7 L333.3,685.7 L336.3,685.7 L339.3,685.6 L342.3,685.6 L345.3,685.6 L348.3,685.6 L351.3,685.6 L354.3,685.5 L357.3,685.5 L360.3,685.5 L363.3,685.5 L366.3,685.5 L369.3,685.4 L372.3,685.4 L375.3,685.4 L378.3,685.4 L381.3,685.4 L384.3,685.3 L387.3,685.3 L390.3,685.3 L393.3,685.3 L396.3,685.3 L399.3,685.2 L402.3,685.2 L405.3,685.2 L408.3,685.2 L411.3,685.2 L414.3,685.1 L417.3,685.1 L420.3,685.1 L423.3,685.1 L426.3,685.0 L429.3,685.0 L432.3,685.0 L435.3,685.0 L438.3,684.9 L441.3,684.9 L444.3,684.9 L447.2,684.9 L450.2,684.9 L453.2,684.8 L456.2,684.8 L459.2,684.8 L462.2,684.7 L465.2,684.7 L468.2,684.7 L471.2,684.7 L474.2,684.6 L477.2,684.6 L480.2,684.6 L483.2,684.5 L486.2,684.5 L489.2,684.5 L492.1,684.5 L495.1,684.4 L498.1,684.4 L501.1,684.4 L504.1,684.3 L507.1,684.3 L510.1,684.3 L513.1,684.2 L516.1,684.2 L519.1,684.1 L522.1,684.1 L525.1,684.1 L528.1,684.0 L531.0,684.0 L534.0,684.0 L537.0,683.9 L540.0,683.9 L543.0,683.8 L546.0,683.8 L549.0,683.7 L552.0,683.7 L555.0,683.7 L558.0,683.6 L561.0,683.6 L564.0,683.5 L566.9,683.5 L569.9,683.4 L572.9,683.4 L575.9,683.3 L578.9,683.3 L581.9,683.2 L584.9,683.2 L587.9,683.1 L590.9,683.1 L593.9,683.0 L596.9,682.9 L599.9,682.9 L602.8,682.8 L605.8,682.8 L608.8,682.7 L611.8,682.6 L614.8,682.6 L617.8,682.5 L620.8,682.5 L623.8,682.4 L626.8,682.3 L629.8,682.3 L632.8,682.2 L635.8,682.1 L638.7,682.0 L641.7,682.0 L644.7,681.9 L647.7,681.8 L650.7,681.8 L653.7,681.7 L656.7,681.6 L659.7,681.5 L662.7,681.4 L665.7,681.4 L668.7,681.3 L671.7,681.2 L674.7,681.1 L677.6,681.0 L680.6,680.9 L683.6,680.9 L686.6,680.8 L689.6,680.7 L692.6,680.6 L695.6,680.5 L698.6,680.4 L701.6,680.3 L704.6,680.2 L707.6,680.1 L710.6,680.0 L713.6,679.9 L716.6,679.8 L719.6,679.7 L722.6,679.6 L725.6,679.5 L728.5,679.4 L731.5,679.3 L734.5,679.1 L737.5,679.0 L740.5,678.9 L743.5,678.8 L746.5,678.7 L749.5,678.5 L752.5,678.4 L755.5,678.3 L758.5,678.1 L761.5,678.0 L764.5,677.9 L767.5,677.7 L770.5,677.6 L773.5,677.4 L776.5,677.3 L779.5,677.1 L782.5,677.0 L785.5,676.8 L788.5,676.7 L791.5,676.5 L794.5,676.3 L797.5,676.1 L800.5,676.0 L803.5,675.8 L806.5,675.6 L809.5,675.4 L812.5,675.2 L815.5,675.0 L818.5,674.8 L821.5,674.6 L824.5,674.4 L827.5,674.2 L830.5,674.0 L833.5,673.8 L836.5,673.6 L839.5,673.3 L842.5,673.1 L845.5,672.9 L848.5,672.6 L851.5,672.4 L854.5,672.1 L857.5,671.9 L860.5,671.6 L863.5,671.4 L866.5,671.1 L869.6,670.8 L872.6,670.5 L875.6,670.3 L878.6,670.0 L881.6,669.7 L884.6,669.4 L887.6,669.1 L890.6,668.8 L893.6,668.4 L896.6,668.1 L899.6,667.8 L902.6,667.5 L905.6,667.1 L908.7,666.8 L911.7,666.4 L914.7,666.1 L917.7,665.7 L920.7,665.3 L923.7,664.9 L926.7,664.5 L929.7,664.1 L932.7,663.7 L935.6,663.3 L938.6,662.9 L941.6,662.4 L944.6,662.0 L947.5,661.5 L950.5,661.0 L953.4,660.5 L956.3,660.0 L959.3,659.5 L962.2,658.9 L965.1,658.4 L968.0,657.8 L970.9,657.2 L973.8,656.6 L976.6,656.0 L979.5,655.4 L982.3,654.7 L985.2,654.0 L988.0,653.4 L990.8,652.6 L993.6,651.9 L996.4,651.1 L999.1,650.4 L1001.9,649.6 L1004.6,648.7 L1007.3,647.9 L1010.0,647.0 L1012.7,646.0 L1015.3,645.1 L1018.0,644.1 L1020.6,643.1 L1023.2,642.0 L1025.8,641.0 L1028.3,639.8 L1030.9,638.7 L1033.4,637.5 L1035.9,636.3 L1038.4,635.0 L1040.8,633.7 L1043.3,632.3 L1045.7,630.9 L1048.0,629.5 L1050.4,628.0 L1052.7,626.5 L1055.0,624.9 L1057.3,623.3 L1059.6,621.6 L1061.8,619.9 L1064.0,618.2 L1066.2,616.5 L1068.4,614.7 L1070.5,612.8 L1072.6,611.0 L1074.7,609.1 L1076.7,607.2 L1078.8,605.3 L1080.8,603.3 L1082.7,601.3 L1084.7,599.3 L1086.6,597.3 L1088.5,595.3 L1090.4,593.3 L1092.2,591.2 L1094.1,589.1 L1095.9,587.1 L1097.6,585.0 L1099.4,582.9 L1101.1,580.8 L1102.8,578.7 L1104.4,576.6 L1106.1,574.5 L1107.7,572.4 L1109.3,570.4 L1110.8,568.3 L1112.4,566.2 L1113.9,564.1 L1115.4,562.1 L1116.8,560.0 L1118.3,558.0 L1119.7,555.9 L1121.1,553.9 L1122.5,551.8 L1123.8,549.7 L1125.2,547.7 L1126.6,545.6 L1127.9,543.5 L1129.2,541.4 L1130.6,539.3 L1131.9,537.1 L1133.2,535.0 L1134.5,532.8 L1135.8,530.6 L1137.2,528.4 L1138.5,526.2 L1139.8,523.9 L1141.1,521.7 L1142.5,519.4 L1143.9,517.1 L1145.2,514.8 L1146.6,512.4 L1148.1,510.1 L1149.5,507.9 L1151.0,505.6 L1152.6,503.3 L1154.1,501.1 L1155.8,499.0 L1157.5,496.9 L1159.2,494.8 L1161.0,492.8 L1162.8,490.8 L1164.8,489.0 L1166.7,487.2 L1168.8,485.5 L1171.0,483.9 L1173.2,482.3 L1175.5,480.9 L1177.9,479.7 L1180.3,478.5 L1182.9,477.5 L1185.4,476.6 L1188.1,475.9 L1190.8,475.3 L1193.6,474.9 L1196.4,474.7 L1199.2,474.7 L1202.1,474.8 L1205.0,475.2 L1208.0,475.6 L1211.0,476.2 L1214.0,476.8 L1217.0,477.6 L1220.1,478.4 L1223.1,479.2 L1226.2,480.0 L1229.3,480.8 L1232.4,481.6 L1235.4,482.3 L1238.5,483.0 L1241.6,483.6 L1244.6,484.0 L1247.7,484.3 L1250.7,484.5 L1253.7,484.5 L1256.6,484.4 L1259.6,484.1 L1262.5,483.8 L1265.3,483.3 L1268.2,482.7 L1271.0,482.1 L1273.8,481.3 L1276.6,480.4 L1279.3,479.4 L1281.9,478.4 L1284.6,477.3 L1287.2,476.1 L1289.7,474.8 L1292.2,473.5 L1294.7,472.1 L1297.1,470.6 L1299.4,469.1 L1301.7,467.5 L1304.0,465.9 L1306.2,464.2 L1308.3,462.5 L1310.4,460.7 L1312.4,458.9 L1314.4,457.0 L1316.3,455.1 L1318.1,453.2 L1319.9,451.2 L1321.6,449.2 L1323.3,447.2 L1325.0,445.1 L1326.5,443.1 L1328.1,440.9 L1329.6,438.8 L1331.0,436.6 L1332.5,434.5 L1333.9,432.3 L1335.2,430.0 L1336.5,427.8 L1337.8,425.6 L1339.1,423.3 L1340.4,421.0 L1341.6,418.8 L1342.8,416.5 L1344.0,414.2 L1345.1,411.9 L1346.3,409.6 L1347.4,407.3 L1348.6,405.0 L1349.7,402.7 L1350.8,400.5 L1351.9,398.2 L1353.0,395.9 L1354.1,393.7 L1355.3,391.4 L1356.4,389.2 L1357.5,387.0 L1358.7,384.8 L1359.8,382.6 L1360.9,380.3 L1362.1,378.1 L1363.2,375.9 L1364.4,373.7 L1365.5,371.5 L1366.7,369.3 L1367.9,367.1 L1369.0,364.8 L1370.2,362.6 L1371.4,360.3 L1372.6,358.0 L1373.8,355.7 L1374.9,353.4 L1376.1,351.0 L1377.3,348.6 L1378.5,346.2 L1379.7,343.7 L1380.9,341.3 L1382.1,338.7 L1383.4,336.2 L1384.6,333.8 L1386.0,331.5 L1387.5,329.4 L1389.1,327.5 L1390.8,326.0 L1392.6,324.8 L1394.4,324.4 L1396.2,324.9 L1397.9,326.1 L1399.6,327.8 L1401.1,329.7 L1402.6,331.9 L1404.1,334.2 L1405.5,336.6 L1406.8,339.0 L1408.0,341.4 L1409.2,343.9 L1410.4,346.3 L1411.5,348.7 L1412.5,351.1 L1413.6,353.5 L1414.5,355.9 L1415.5,358.3 L1416.4,360.7 L1417.3,363.1 L1418.1,365.4 L1418.9,367.8 L1419.7,370.2 L1420.5,372.5 L1421.2,374.9 L1422.0,377.3 L1422.7,379.6 L1423.4,382.0 L1424.1,384.4 L1424.8,386.7 L1425.5,389.1 L1426.2,391.5 L1426.9,393.9 L1427.5,396.2 L1428.2,398.6 L1428.9,401.0 L1429.6,403.4 L1430.3,405.7 L1431.0,408.1 L1431.6,410.5 L1432.3,412.9 L1433.0,415.3 L1433.7,417.6 L1434.4,420.0 L1435.1,422.4 L1435.8,424.8 L1436.5,427.2 L1437.2,429.6 L1437.9,431.9 L1438.6,434.3 L1439.3,436.7 L1440.0,439.1 L1440.7,441.4 L1441.5,443.8 L1442.2,446.2 L1442.9,448.6 L1443.7,451.0 L1444.4,453.3 L1445.2,455.7 L1446.0,458.1 L1446.8,460.4 L1447.6,462.8 L1448.3,465.2 L1449.2,467.5 L1450.0,469.9 L1450.8,472.2 L1451.6,474.6 L1452.5,476.9 L1453.3,479.3 L1454.2,481.6 L1455.1,484.0 L1456.0,486.3 L1456.9,488.7 L1457.8,491.0 L1458.8,493.3 L1459.7,495.6 L1460.7,498.0 L1461.7,500.3 L1462.7,502.6 L1463.7,504.9 L1464.7,507.2 L1465.7,509.5 L1466.8,511.8 L1467.9,514.1 L1469.0,516.4 L1470.1,518.7 L1471.2,521.0 L1472.4,523.3 L1473.5,525.5 L1474.7,527.8 L1475.9,530.1 L1477.2,532.3 L1478.4,534.6 L1479.7,536.8 L1481.0,539.0 L1482.3,541.3 L1483.6,543.5 L1485.0,545.7 L1486.4,547.9 L1487.8,550.1 L1489.2,552.3 L1490.7,554.5 L1492.1,556.7 L1493.6,558.9 L1495.1,561.1 L1496.7,563.2 L1498.3,565.3 L1499.9,567.5 L1501.5,569.6 L1503.1,571.7 L1504.8,573.7 L1506.5,575.8 L1508.2,577.9 L1510.0,579.9 L1511.8,581.9 L1513.6,583.9 L1515.4,585.8 L1517.3,587.8 L1519.1,589.7 L1521.1,591.6 L1523.0,593.5 L1525.0,595.3 L1527.0,597.1 L1529.0,598.9 L1531.1,600.7 L1533.1,602.4 L1535.3,604.1 L1537.4,605.8 L1539.6,607.5 L1541.8,609.1 L1544.0,610.7 L1546.3,612.2 L1548.6,613.7 L1550.9,615.2 L1553.3,616.7 L1555.6,618.1 L1558.1,619.4 L1560.5,620.8 L1563.0,622.1 L1565.5,623.3 L1568.1,624.5 L1570.7,625.7 L1573.3,626.9 L1575.9,628.0 L1578.6,629.0 L1581.3,630.1 L1584.0,631.1 L1586.7,632.0 L1589.5,633.0 L1592.3,633.9 L1595.1,634.8 L1597.9,635.6 L1600.7,636.5 L1603.6,637.3 L1606.4,638.1 L1609.3,638.9 L1612.2,639.6 L1615.1,640.3 L1618.0,641.1 L1620.9,641.8 L1623.8,642.5 L1626.8,643.2 L1629.7,643.8 L1632.6,644.5 L1635.6,645.1 L1638.5,645.8 L1641.4,646.4 L1644.4,647.1 L1647.3,647.7 L1650.2,648.3 L1653.1,648.9 L1656.1,649.6 L1659.0,650.2 L1661.9,650.8 L1664.8,651.4 L1667.8,652.0 L1670.7,652.5 L1673.6,653.1 L1676.5,653.7 L1679.4,654.3 L1682.4,654.8 L1685.3,655.4 L1688.2,655.9 L1691.1,656.5 L1694.0,657.0 L1697.0,657.5 L1699.9,658.0 L1702.8,658.5 L1705.7,659.0 L1708.6,659.5 L1711.6,660.0 L1714.5,660.5 L1717.4,660.9 L1720.4,661.4 L1723.3,661.8 L1726.2,662.3 L1729.1,662.7 L1732.1,663.1 L1735.0,663.5 L1738.0,663.9 L1740.9,664.3 L1743.8,664.6 L1746.8,665.0 L1749.7,665.4 L1752.7,665.7 L1755.6,666.0 L1758.6,666.4 L1761.6,666.7 L1764.5,667.0 L1767.5,667.2 L1770.5,667.5 L1773.4,667.8 L1776.4,668.0 L1779.4,668.2 L1782.4,668.5 L1785.4,668.7 L1788.3,668.9 L1791.3,669.1 L1794.3,669.2 L1797.3,669.4 L1800.3,669.6 L1803.4,669.7 L1806.4,669.9 L1809.4,670.0 L1812.4,670.1 L1815.4,670.2 L1818.4,670.4 L1821.4,670.5 L1824.4,670.6 L1827.5,670.7 L1830.5,670.8 L1833.5,670.9 L1836.5,671.0 L1839.5,671.0 L1842.5,671.1 L1845.6,671.2 L1848.6,671.3 L1851.6,671.4 L1854.6,671.5 L1857.6,671.6 L1860.6,671.7 L1863.6,671.7 L1866.6,671.8 L1869.6,671.9 L1872.6,672.0 L1875.6,672.1 L1878.6,672.3 L1881.6,672.4 L1884.6,672.5 L1887.6,672.6 L1890.6,672.8 L1893.6,672.9 L1896.5,673.1 L1899.5,673.2 L1902.5,673.4 L1905.4,673.6 L1908.0,673.8" fill="none" stroke="#de5217" stroke-width="8.3" stroke-linejoin="round"/></g>
<g filter="url(#gb)" clip-path="none"><g clip-path="url(#gc)"><path transform="scale(1.12,1)" d="M184.8,838.0 L187.5,838.0 L190.2,837.9 L192.9,837.9 L195.6,837.9 L198.3,837.8 L201.0,837.8 L203.7,837.8 L206.4,837.8 L209.1,837.7 L211.8,837.7 L214.5,837.7 L217.2,837.7 L219.9,837.6 L222.6,837.6 L225.2,837.6 L227.9,837.6 L230.6,837.6 L233.3,837.6 L236.0,837.5 L238.7,837.5 L241.4,837.5 L244.1,837.5 L246.8,837.5 L249.4,837.5 L252.1,837.5 L254.8,837.5 L257.5,837.5 L260.2,837.5 L262.9,837.4 L265.6,837.4 L268.2,837.4 L270.9,837.4 L273.6,837.4 L276.3,837.4 L279.0,837.4 L281.7,837.4 L284.3,837.4 L287.0,837.4 L289.7,837.4 L292.4,837.4 L295.1,837.4 L297.7,837.4 L300.4,837.4 L303.1,837.4 L305.8,837.4 L308.5,837.4 L311.1,837.4 L313.8,837.4 L316.5,837.4 L319.2,837.4 L321.8,837.5 L324.5,837.5 L327.2,837.5 L329.9,837.5 L332.5,837.5 L335.2,837.5 L337.9,837.5 L340.6,837.5 L343.2,837.5 L345.9,837.5 L348.6,837.5 L351.3,837.5 L353.9,837.5 L356.6,837.5 L359.3,837.5 L362.0,837.5 L364.6,837.5 L367.3,837.5 L370.0,837.5 L372.7,837.5 L375.3,837.6 L378.0,837.6 L380.7,837.6 L383.3,837.6 L386.0,837.6 L388.7,837.6 L391.4,837.6 L394.0,837.6 L396.7,837.6 L399.4,837.6 L402.0,837.6 L404.7,837.6 L407.4,837.6 L410.0,837.6 L412.7,837.6 L415.4,837.6 L418.1,837.6 L420.7,837.6 L423.4,837.6 L426.1,837.6 L428.7,837.6 L431.4,837.5 L434.1,837.5 L436.7,837.5 L439.4,837.5 L442.1,837.5 L444.7,837.5 L447.4,837.5 L450.1,837.5 L452.8,837.5 L455.4,837.5 L458.1,837.4 L460.8,837.4 L463.4,837.4 L466.1,837.4 L468.8,837.4 L471.4,837.4 L474.1,837.3 L476.8,837.3 L479.4,837.3 L482.1,837.3 L484.8,837.3 L487.4,837.2 L490.1,837.2 L492.8,837.2 L495.5,837.1 L498.1,837.1 L500.8,837.1 L503.5,837.0 L506.1,837.0 L508.8,837.0 L511.5,836.9 L514.1,836.9 L516.8,836.9 L519.5,836.8 L522.1,836.8 L524.8,836.7 L527.5,836.7 L530.2,836.6 L532.8,836.6 L535.5,836.5 L538.2,836.5 L540.8,836.4 L543.5,836.4 L546.2,836.3 L548.9,836.3 L551.5,836.2 L554.2,836.1 L556.9,836.1 L559.5,836.0 L562.2,836.0 L564.9,835.9 L567.6,835.8 L570.2,835.7 L572.9,835.7 L575.6,835.6 L578.2,835.5 L580.9,835.4 L583.6,835.3 L586.3,835.3 L588.9,835.2 L591.6,835.1 L594.3,835.0 L597.0,834.9 L599.6,834.8 L602.3,834.7 L605.0,834.6 L607.7,834.5 L610.4,834.4 L613.0,834.3 L615.7,834.2 L618.4,834.1 L621.1,834.0 L623.7,833.9 L626.4,833.7 L629.1,833.6 L631.8,833.5 L634.5,833.4 L637.1,833.2 L639.8,833.1 L642.5,833.0 L645.2,832.9 L647.9,832.7 L650.5,832.6 L653.2,832.4 L655.9,832.3 L658.6,832.1 L661.3,832.0 L664.0,831.8 L666.6,831.7 L669.3,831.5 L672.0,831.4 L674.7,831.2 L677.4,831.0 L680.1,830.9 L682.8,830.7 L685.4,830.5 L688.1,830.4 L690.8,830.2 L693.5,830.0 L696.2,829.8 L698.9,829.6 L701.6,829.4 L704.3,829.2 L707.0,829.0 L709.6,828.8 L712.3,828.6 L715.0,828.4 L717.7,828.2 L720.4,828.0 L723.1,827.8 L725.8,827.6 L728.5,827.3 L731.2,827.1 L733.9,826.9 L736.6,826.7 L739.3,826.4 L742.0,826.2 L744.7,826.0 L747.4,825.7 L750.0,825.5 L752.7,825.2 L755.4,825.0 L758.1,824.8 L760.8,824.5 L763.5,824.3 L766.2,824.0 L768.9,823.8 L771.6,823.5 L774.2,823.2 L776.9,823.0 L779.6,822.7 L782.3,822.5 L785.0,822.2 L787.6,822.0 L790.3,821.7 L793.0,821.4 L795.6,821.2 L798.3,820.9 L801.0,820.7 L803.6,820.4 L806.3,820.1 L809.0,819.9 L811.6,819.6 L814.3,819.3 L816.9,819.1 L819.6,818.8 L822.2,818.5 L824.9,818.2 L827.5,817.9 L830.1,817.6 L832.8,817.3 L835.4,816.9 L838.0,816.6 L840.7,816.2 L843.3,815.9 L845.9,815.5 L848.5,815.1 L851.1,814.6 L853.7,814.2 L856.3,813.7 L858.9,813.2 L861.5,812.7 L864.1,812.2 L866.7,811.6 L869.3,811.1 L871.8,810.5 L874.4,809.8 L877.0,809.2 L879.5,808.5 L882.1,807.7 L884.7,807.0 L887.2,806.2 L889.7,805.4 L892.3,804.5 L894.8,803.6 L897.3,802.7 L899.9,801.7 L902.4,800.7 L904.9,799.7 L907.4,798.6 L909.9,797.5 L912.4,796.4 L914.8,795.2 L917.3,794.0 L919.8,792.8 L922.2,791.5 L924.6,790.2 L927.1,788.9 L929.5,787.5 L931.9,786.1 L934.3,784.7 L936.6,783.2 L939.0,781.8 L941.4,780.2 L943.7,778.7 L946.0,777.1 L948.3,775.5 L950.6,773.9 L952.9,772.2 L955.2,770.6 L957.4,768.8 L959.6,767.1 L961.8,765.3 L964.0,763.5 L966.2,761.7 L968.3,759.9 L970.5,758.0 L972.6,756.1 L974.7,754.2 L976.8,752.2 L978.8,750.3 L980.9,748.3 L982.9,746.3 L984.9,744.2 L986.8,742.2 L988.8,740.1 L990.7,738.0 L992.6,735.8 L994.4,733.7 L996.3,731.5 L998.1,729.3 L999.9,727.1 L1001.7,724.9 L1003.4,722.6 L1005.1,720.4 L1006.8,718.1 L1008.5,715.8 L1010.1,713.4 L1011.7,711.1 L1013.3,708.7 L1014.8,706.3 L1016.4,703.9 L1017.9,701.5 L1019.4,699.1 L1020.9,696.7 L1022.4,694.3 L1023.9,691.9 L1025.5,689.5 L1027.0,687.1 L1028.6,684.7 L1030.2,682.3 L1031.8,680.0 L1033.4,677.6 L1035.1,675.3 L1036.9,673.0 L1038.7,670.8 L1040.5,668.5 L1042.4,666.3 L1044.4,664.2 L1046.4,662.0 L1048.5,660.0 L1050.7,657.9 L1052.9,656.0 L1055.1,654.1 L1057.4,652.3 L1059.8,650.6 L1062.2,649.1 L1064.6,647.6 L1067.1,646.3 L1069.5,645.1 L1072.0,644.1 L1074.5,643.2 L1077.1,642.5 L1079.6,642.0 L1082.1,641.7 L1084.7,641.5 L1087.2,641.4 L1089.8,641.5 L1092.3,641.7 L1094.9,642.0 L1097.5,642.4 L1100.1,642.9 L1102.7,643.5 L1105.3,644.1 L1107.9,644.8 L1110.5,645.5 L1113.1,646.3 L1115.7,647.1 L1118.4,647.9 L1121.0,648.7 L1123.7,649.5 L1126.3,650.3 L1129.0,651.0 L1131.7,651.7 L1134.4,652.3 L1137.0,652.9 L1139.7,653.4 L1142.4,653.8 L1145.1,654.2 L1147.8,654.4 L1150.5,654.6 L1153.3,654.7 L1156.0,654.7 L1158.7,654.7 L1161.4,654.5 L1164.0,654.3 L1166.7,654.0 L1169.4,653.7 L1172.1,653.2 L1174.7,652.7 L1177.3,652.2 L1180.0,651.5 L1182.6,650.8 L1185.1,650.0 L1187.7,649.1 L1190.2,648.2 L1192.8,647.2 L1195.3,646.1 L1197.7,645.0 L1200.2,643.8 L1202.6,642.5 L1204.9,641.2 L1207.3,639.8 L1209.6,638.3 L1211.8,636.8 L1214.1,635.2 L1216.3,633.6 L1218.4,631.9 L1220.5,630.1 L1222.6,628.3 L1224.6,626.4 L1226.6,624.5 L1228.5,622.5 L1230.4,620.4 L1232.3,618.3 L1234.1,616.2 L1235.8,614.0 L1237.6,611.8 L1239.3,609.5 L1240.9,607.2 L1242.6,604.8 L1244.2,602.4 L1245.7,600.0 L1247.2,597.5 L1248.7,595.0 L1250.2,592.5 L1251.6,589.9 L1253.0,587.3 L1254.3,584.6 L1255.6,582.0 L1256.9,579.3 L1258.2,576.6 L1259.4,573.9 L1260.6,571.1 L1261.7,568.3 L1262.8,565.5 L1263.9,562.7 L1265.0,559.9 L1266.1,557.1 L1267.1,554.2 L1268.1,551.4 L1269.0,548.5 L1270.0,545.7 L1270.9,542.8 L1271.8,539.9 L1272.6,537.0 L1273.5,534.2 L1274.3,531.3 L1275.1,528.4 L1275.8,525.5 L1276.6,522.6 L1277.3,519.7 L1278.0,516.8 L1278.7,514.0 L1279.4,511.1 L1280.1,508.2 L1280.7,505.3 L1281.3,502.4 L1282.0,499.5 L1282.6,496.6 L1283.2,493.7 L1283.8,490.8 L1284.4,487.9 L1284.9,485.0 L1285.5,482.1 L1286.1,479.2 L1286.6,476.2 L1287.2,473.3 L1287.7,470.4 L1288.3,467.5 L1288.8,464.6 L1289.3,461.7 L1289.9,458.8 L1290.4,455.8 L1290.9,452.9 L1291.4,450.0 L1292.0,447.1 L1292.5,444.1 L1293.0,441.2 L1293.5,438.3 L1294.0,435.3 L1294.5,432.4 L1295.0,429.5 L1295.5,426.5 L1295.9,423.6 L1296.4,420.6 L1296.9,417.7 L1297.4,414.7 L1297.8,411.8 L1298.3,408.8 L1298.7,405.9 L1299.2,402.9 L1299.6,400.0 L1300.1,397.0 L1300.5,394.0 L1300.9,391.1 L1301.3,388.1 L1301.8,385.1 L1302.2,382.2 L1302.6,379.2 L1303.0,376.2 L1303.4,373.2 L1303.8,370.3 L1304.2,367.3 L1304.6,364.3 L1304.9,361.3 L1305.3,358.3 L1305.7,355.4 L1306.1,352.4 L1306.4,349.4 L1306.8,346.4 L1307.2,343.4 L1307.5,340.4 L1307.9,337.4 L1308.2,334.5 L1308.5,331.5 L1308.9,328.5 L1309.2,325.5 L1309.5,322.5 L1309.9,319.5 L1310.2,316.5 L1310.5,313.5 L1310.8,310.5 L1311.1,307.5 L1311.4,304.5 L1311.8,301.5 L1312.1,298.5 L1312.4,295.5 L1312.7,292.6 L1312.9,289.6 L1313.2,286.6 L1313.5,283.6 L1313.8,280.6 L1314.1,277.6 L1314.4,274.6 L1314.6,271.6 L1314.9,268.6 L1315.2,265.6 L1315.5,262.7 L1315.7,259.7 L1316.0,256.7 L1316.2,253.7 L1316.5,250.7 L1316.8,247.7 L1317.0,244.8 L1317.3,241.8 L1317.5,238.8 L1317.8,235.8 L1318.0,232.9 L1318.3,229.9 L1318.5,226.9 L1318.7,224.0 L1319.0,221.0 L1319.2,218.0 L1319.4,215.1 L1319.7,212.1 L1319.9,209.2 L1320.1,206.2 L1320.4,203.3 L1320.6,200.3 L1320.8,197.4 L1321.0,194.4 L1321.3,191.5 L1321.5,188.5 L1321.7,185.6 L1322.0,182.7 L1322.2,179.7 L1322.4,176.8 L1322.7,173.8 L1322.9,170.9 L1323.2,167.9 L1323.5,164.9 L1323.7,161.9 L1324.0,159.0 L1324.3,156.0 L1324.7,153.0 L1325.0,150.0 L1325.4,146.9 L1325.7,143.9 L1326.1,140.9 L1326.5,137.8 L1326.9,134.7 L1327.4,131.6 L1327.8,128.5 L1328.3,125.4 L1328.8,122.2 L1329.4,119.1 L1330.0,115.9 L1330.5,112.7 L1331.2,109.4 L1331.8,106.2 L1332.5,103.2 L1333.2,100.5 L1334.0,98.6 L1334.8,97.7 L1335.7,98.0 L1336.6,99.5 L1337.5,101.8 L1338.4,104.7 L1339.3,107.9 L1340.1,111.1 L1340.7,114.4 L1341.3,117.5 L1341.9,120.7 L1342.3,123.8 L1342.7,126.8 L1343.1,129.8 L1343.4,132.8 L1343.7,135.8 L1343.9,138.8 L1344.2,141.7 L1344.4,144.7 L1344.6,147.6 L1344.8,150.6 L1345.1,153.5 L1345.3,156.5 L1345.5,159.4 L1345.8,162.4 L1346.0,165.4 L1346.3,168.3 L1346.5,171.3 L1346.8,174.3 L1347.1,177.3 L1347.3,180.3 L1347.6,183.3 L1347.9,186.3 L1348.1,189.2 L1348.4,192.2 L1348.7,195.2 L1348.9,198.2 L1349.2,201.2 L1349.4,204.2 L1349.7,207.2 L1349.9,210.2 L1350.2,213.2 L1350.4,216.2 L1350.7,219.2 L1350.9,222.1 L1351.2,225.1 L1351.4,228.1 L1351.7,231.1 L1351.9,234.1 L1352.1,237.1 L1352.4,240.1 L1352.6,243.1 L1352.8,246.1 L1353.1,249.0 L1353.3,252.0 L1353.5,255.0 L1353.8,258.0 L1354.0,261.0 L1354.2,264.0 L1354.5,267.0 L1354.7,269.9 L1354.9,272.9 L1355.1,275.9 L1355.4,278.9 L1355.6,281.9 L1355.8,284.9 L1356.1,287.9 L1356.3,290.9 L1356.5,293.8 L1356.7,296.8 L1357.0,299.8 L1357.2,302.8 L1357.4,305.8 L1357.7,308.8 L1357.9,311.8 L1358.1,314.7 L1358.4,317.7 L1358.6,320.7 L1358.9,323.7 L1359.1,326.7 L1359.4,329.7 L1359.6,332.7 L1359.8,335.7 L1360.1,338.6 L1360.3,341.6 L1360.6,344.6 L1360.9,347.6 L1361.1,350.6 L1361.4,353.6 L1361.6,356.6 L1361.9,359.6 L1362.2,362.5 L1362.4,365.5 L1362.7,368.5 L1363.0,371.5 L1363.2,374.5 L1363.5,377.5 L1363.8,380.5 L1364.1,383.5 L1364.3,386.4 L1364.6,389.4 L1364.9,392.4 L1365.2,395.4 L1365.5,398.4 L1365.8,401.4 L1366.1,404.4 L1366.4,407.3 L1366.6,410.3 L1366.9,413.3 L1367.3,416.3 L1367.6,419.3 L1367.9,422.3 L1368.2,425.2 L1368.5,428.2 L1368.8,431.2 L1369.1,434.2 L1369.4,437.2 L1369.8,440.1 L1370.1,443.1 L1370.4,446.1 L1370.7,449.1 L1371.1,452.0 L1371.4,455.0 L1371.8,458.0 L1372.1,461.0 L1372.4,464.0 L1372.8,466.9 L1373.1,469.9 L1373.5,472.9 L1373.8,475.8 L1374.2,478.8 L1374.6,481.8 L1374.9,484.8 L1375.3,487.7 L1375.7,490.7 L1376.1,493.7 L1376.4,496.6 L1376.8,499.6 L1377.2,502.6 L1377.6,505.5 L1378.0,508.5 L1378.4,511.4 L1378.9,514.4 L1379.3,517.3 L1379.7,520.3 L1380.1,523.3 L1380.6,526.2 L1381.0,529.2 L1381.5,532.1 L1382.0,535.0 L1382.5,538.0 L1383.0,540.9 L1383.5,543.9 L1384.0,546.8 L1384.5,549.7 L1385.0,552.7 L1385.6,555.6 L1386.1,558.5 L1386.7,561.5 L1387.2,564.4 L1387.8,567.3 L1388.4,570.2 L1389.1,573.1 L1389.7,576.0 L1390.3,578.9 L1391.0,581.9 L1391.6,584.8 L1392.3,587.7 L1393.0,590.5 L1393.7,593.4 L1394.5,596.3 L1395.2,599.2 L1396.0,602.1 L1396.8,605.0 L1397.6,607.9 L1398.4,610.7 L1399.2,613.6 L1400.0,616.5 L1400.9,619.3 L1401.8,622.2 L1402.7,625.0 L1403.6,627.9 L1404.5,630.7 L1405.5,633.5 L1406.5,636.4 L1407.5,639.2 L1408.5,642.0 L1409.5,644.8 L1410.6,647.6 L1411.7,650.4 L1412.8,653.1 L1413.9,655.9 L1415.1,658.6 L1416.2,661.3 L1417.4,664.0 L1418.6,666.7 L1419.9,669.4 L1421.2,672.1 L1422.4,674.7 L1423.8,677.3 L1425.1,679.9 L1426.4,682.5 L1427.8,685.1 L1429.2,687.6 L1430.7,690.1 L1432.2,692.6 L1433.6,695.1 L1435.2,697.6 L1436.7,700.0 L1438.3,702.4 L1439.9,704.7 L1441.5,707.1 L1443.2,709.4 L1444.8,711.7 L1446.5,713.9 L1448.3,716.2 L1450.1,718.4 L1451.9,720.5 L1453.7,722.6 L1455.6,724.7 L1457.4,726.8 L1459.4,728.8 L1461.3,730.8 L1463.3,732.8 L1465.3,734.7 L1467.4,736.6 L1469.4,738.4 L1471.5,740.2 L1473.7,742.0 L1475.8,743.7 L1478.0,745.4 L1480.2,747.1 L1482.5,748.7 L1484.7,750.3 L1487.0,751.9 L1489.3,753.4 L1491.7,754.9 L1494.0,756.4 L1496.4,757.8 L1498.8,759.2 L1501.2,760.6 L1503.6,762.0 L1506.1,763.3 L1508.5,764.6 L1511.0,765.8 L1513.5,767.1 L1516.0,768.3 L1518.5,769.4 L1521.0,770.6 L1523.5,771.7 L1526.1,772.8 L1528.6,773.9 L1531.2,774.9 L1533.8,775.9 L1536.3,776.9 L1538.9,777.9 L1541.5,778.8 L1544.1,779.7 L1546.7,780.6 L1549.3,781.5 L1551.9,782.4 L1554.5,783.2 L1557.1,784.0 L1559.7,784.8 L1562.3,785.6 L1564.9,786.3 L1567.5,787.0 L1570.1,787.7 L1572.7,788.4 L1575.3,789.1 L1577.9,789.8 L1580.5,790.4 L1583.1,791.0 L1585.7,791.6 L1588.3,792.2 L1590.9,792.8 L1593.5,793.3 L1596.1,793.8 L1598.7,794.4 L1601.3,794.9 L1603.9,795.4 L1606.5,795.8 L1609.2,796.3 L1611.8,796.8 L1614.4,797.2 L1617.0,797.6 L1619.6,798.0 L1622.3,798.4 L1624.9,798.8 L1627.5,799.2 L1630.1,799.6 L1632.8,800.0 L1635.4,800.3 L1638.0,800.7 L1640.7,801.0 L1643.3,801.3 L1646.0,801.6 L1648.6,802.0 L1651.3,802.3 L1653.9,802.6 L1656.6,802.9 L1659.2,803.1 L1661.9,803.4 L1664.6,803.7 L1667.2,804.0 L1669.9,804.3 L1672.6,804.5 L1675.2,804.8 L1677.9,805.1 L1680.6,805.3 L1683.3,805.6 L1686.0,805.8 L1688.7,806.1 L1691.4,806.3 L1694.1,806.6 L1696.8,806.9 L1699.5,807.1 L1702.2,807.4 L1703.6,807.5" fill="none" stroke="#f8985f" stroke-opacity="0.33" stroke-width="38.0" stroke-linecap="round" stroke-linejoin="round"/></g></g>
<g filter="url(#lb)"><path transform="scale(1,1.22)" d="M207.0,686.9 L210.0,686.9 L213.0,686.8 L216.1,686.8 L219.1,686.8 L222.1,686.8 L225.1,686.7 L228.1,686.7 L231.2,686.7 L234.2,686.7 L237.2,686.6 L240.2,686.6 L243.2,686.6 L246.2,686.6 L249.3,686.6 L252.3,686.6 L255.3,686.5 L258.3,686.5 L261.3,686.5 L264.3,686.5 L267.3,686.5 L270.3,686.5 L273.4,686.5 L276.4,686.5 L279.4,686.5 L282.4,686.5 L285.4,686.4 L288.4,686.4 L291.4,686.4 L294.4,686.4 L297.4,686.4 L300.4,686.4 L303.4,686.4 L306.4,686.4 L309.4,686.4 L312.5,686.4 L315.5,686.4 L318.5,686.4 L321.5,686.4 L324.5,686.4 L327.5,686.4 L330.5,686.4 L333.5,686.4 L336.5,686.4 L339.5,686.4 L342.5,686.4 L345.5,686.4 L348.5,686.4 L351.5,686.4 L354.5,686.4 L357.5,686.4 L360.5,686.4 L363.5,686.4 L366.5,686.4 L369.5,686.4 L372.5,686.5 L375.5,686.5 L378.4,686.5 L381.4,686.5 L384.4,686.5 L387.4,686.5 L390.4,686.5 L393.4,686.5 L396.4,686.5 L399.4,686.5 L402.4,686.5 L405.4,686.5 L408.4,686.5 L411.4,686.5 L414.4,686.5 L417.4,686.5 L420.4,686.5 L423.4,686.5 L426.4,686.5 L429.3,686.5 L432.3,686.5 L435.3,686.5 L438.3,686.5 L441.3,686.5 L444.3,686.5 L447.3,686.5 L450.3,686.5 L453.3,686.5 L456.3,686.5 L459.3,686.5 L462.2,686.5 L465.2,686.5 L468.2,686.5 L471.2,686.5 L474.2,686.5 L477.2,686.5 L480.2,686.5 L483.2,686.5 L486.2,686.5 L489.1,686.5 L492.1,686.5 L495.1,686.5 L498.1,686.5 L501.1,686.5 L504.1,686.5 L507.1,686.5 L510.1,686.4 L513.1,686.4 L516.1,686.4 L519.0,686.4 L522.0,686.4 L525.0,686.4 L528.0,686.4 L531.0,686.3 L534.0,686.3 L537.0,686.3 L540.0,686.3 L543.0,686.3 L545.9,686.3 L548.9,686.2 L551.9,686.2 L554.9,686.2 L557.9,686.2 L560.9,686.1 L563.9,686.1 L566.9,686.1 L569.9,686.0 L572.8,686.0 L575.8,686.0 L578.8,686.0 L581.8,685.9 L584.8,685.9 L587.8,685.9 L590.8,685.8 L593.8,685.8 L596.8,685.7 L599.8,685.7 L602.7,685.7 L605.7,685.6 L608.7,685.6 L611.7,685.5 L614.7,685.5 L617.7,685.4 L620.7,685.4 L623.7,685.3 L626.7,685.3 L629.7,685.2 L632.7,685.1 L635.7,685.1 L638.7,685.0 L641.7,685.0 L644.6,684.9 L647.6,684.8 L650.6,684.8 L653.6,684.7 L656.6,684.6 L659.6,684.6 L662.6,684.5 L665.6,684.4 L668.6,684.3 L671.6,684.3 L674.6,684.2 L677.6,684.1 L680.6,684.0 L683.6,683.9 L686.6,683.9 L689.6,683.8 L692.6,683.7 L695.6,683.6 L698.6,683.5 L701.6,683.4 L704.6,683.3 L707.6,683.2 L710.6,683.1 L713.6,683.0 L716.6,682.9 L719.6,682.8 L722.6,682.7 L725.6,682.6 L728.6,682.4 L731.6,682.3 L734.6,682.2 L737.6,682.1 L740.6,682.0 L743.6,681.8 L746.6,681.7 L749.6,681.6 L752.6,681.5 L755.7,681.3 L758.7,681.2 L761.7,681.0 L764.7,680.9 L767.7,680.8 L770.7,680.6 L773.7,680.5 L776.7,680.3 L779.7,680.2 L782.7,680.0 L785.8,679.9 L788.8,679.7 L791.8,679.5 L794.8,679.4 L797.8,679.2 L800.8,679.0 L803.8,678.9 L806.9,678.7 L809.9,678.5 L812.9,678.3 L815.9,678.2 L818.9,678.0 L821.9,677.8 L825.0,677.6 L828.0,677.4 L831.0,677.2 L834.0,677.0 L837.0,676.8 L840.0,676.6 L843.1,676.4 L846.1,676.2 L849.1,676.0 L852.1,675.8 L855.1,675.6 L858.1,675.4 L861.1,675.2 L864.1,675.0 L867.1,674.8 L870.1,674.6 L873.1,674.4 L876.1,674.2 L879.1,674.0 L882.1,673.7 L885.1,673.5 L888.1,673.3 L891.1,673.1 L894.1,672.9 L897.1,672.7 L900.1,672.5 L903.1,672.2 L906.0,672.0 L909.0,671.8 L912.0,671.6 L915.0,671.4 L917.9,671.1 L920.9,670.9 L923.8,670.7 L926.8,670.4 L929.8,670.2 L932.7,669.9 L935.7,669.6 L938.6,669.3 L941.5,669.0 L944.5,668.7 L947.4,668.4 L950.3,668.1 L953.3,667.7 L956.2,667.4 L959.1,667.0 L962.0,666.6 L964.9,666.2 L967.8,665.7 L970.7,665.3 L973.6,664.8 L976.5,664.3 L979.3,663.8 L982.2,663.2 L985.1,662.7 L988.0,662.1 L990.8,661.5 L993.7,660.8 L996.5,660.1 L999.4,659.4 L1002.2,658.7 L1005.0,657.9 L1007.9,657.1 L1010.7,656.3 L1013.5,655.5 L1016.3,654.6 L1019.1,653.7 L1021.8,652.8 L1024.6,651.8 L1027.4,650.8 L1030.1,649.8 L1032.9,648.8 L1035.6,647.7 L1038.3,646.6 L1041.0,645.5 L1043.7,644.4 L1046.4,643.2 L1049.0,642.0 L1051.7,640.8 L1054.3,639.5 L1056.9,638.3 L1059.5,637.0 L1062.1,635.7 L1064.7,634.3 L1067.2,633.0 L1069.8,631.6 L1072.3,630.2 L1074.8,628.8 L1077.3,627.3 L1079.7,625.9 L1082.1,624.4 L1084.6,622.8 L1086.9,621.3 L1089.3,619.8 L1091.7,618.2 L1094.0,616.6 L1096.3,615.0 L1098.6,613.3 L1100.8,611.7 L1103.0,610.0 L1105.2,608.3 L1107.4,606.6 L1109.6,604.9 L1111.7,603.2 L1113.8,601.4 L1115.8,599.6 L1117.9,597.8 L1119.9,596.0 L1121.9,594.2 L1123.8,592.3 L1125.7,590.5 L1127.6,588.6 L1129.5,586.7 L1131.3,584.8 L1133.1,582.8 L1134.9,580.9 L1136.6,579.0 L1138.3,577.0 L1140.0,575.0 L1141.7,573.1 L1143.4,571.1 L1145.1,569.1 L1146.8,567.1 L1148.5,565.2 L1150.2,563.2 L1152.0,561.2 L1153.8,559.3 L1155.6,557.4 L1157.4,555.5 L1159.3,553.6 L1161.3,551.7 L1163.3,549.8 L1165.4,548.0 L1167.5,546.2 L1169.7,544.4 L1172.0,542.7 L1174.3,541.0 L1176.7,539.3 L1179.2,537.7 L1181.8,536.2 L1184.3,534.7 L1187.0,533.3 L1189.7,532.0 L1192.4,530.8 L1195.1,529.8 L1197.9,528.8 L1200.7,527.9 L1203.5,527.2 L1206.3,526.7 L1209.1,526.2 L1212.0,525.9 L1214.8,525.8 L1217.7,525.7 L1220.6,525.8 L1223.4,526.0 L1226.3,526.2 L1229.2,526.5 L1232.1,527.0 L1235.0,527.4 L1237.9,527.9 L1240.8,528.5 L1243.8,529.1 L1246.7,529.7 L1249.6,530.4 L1252.6,531.1 L1255.6,531.7 L1258.5,532.4 L1261.5,533.0 L1264.5,533.6 L1267.5,534.2 L1270.5,534.7 L1273.5,535.2 L1276.5,535.6 L1279.5,535.9 L1282.5,536.2 L1285.6,536.4 L1288.6,536.6 L1291.6,536.6 L1294.7,536.7 L1297.7,536.6 L1300.7,536.5 L1303.7,536.3 L1306.7,536.1 L1309.7,535.8 L1312.7,535.4 L1315.7,535.0 L1318.6,534.5 L1321.6,534.0 L1324.5,533.4 L1327.4,532.8 L1330.2,532.1 L1333.1,531.3 L1335.9,530.5 L1338.7,529.6 L1341.4,528.7 L1344.2,527.7 L1346.9,526.6 L1349.5,525.6 L1352.1,524.4 L1354.7,523.2 L1357.3,522.0 L1359.7,520.7 L1362.2,519.3 L1364.6,517.9 L1367.0,516.5 L1369.3,515.0 L1371.5,513.4 L1373.8,511.8 L1375.9,510.2 L1378.0,508.5 L1380.1,506.8 L1382.2,505.1 L1384.1,503.3 L1386.1,501.5 L1388.0,499.6 L1389.9,497.7 L1391.7,495.8 L1393.5,493.8 L1395.2,491.8 L1396.9,489.8 L1398.6,487.7 L1400.2,485.6 L1401.8,483.5 L1403.3,481.4 L1404.8,479.2 L1406.3,477.0 L1407.7,474.8 L1409.1,472.6 L1410.5,470.4 L1411.8,468.1 L1413.1,465.8 L1414.4,463.6 L1415.6,461.3 L1416.8,459.0 L1418.0,456.6 L1419.1,454.3 L1420.2,452.0 L1421.3,449.6 L1422.4,447.3 L1423.4,444.9 L1424.4,442.5 L1425.3,440.2 L1426.3,437.8 L1427.2,435.5 L1428.1,433.1 L1428.9,430.7 L1429.8,428.4 L1430.6,426.0 L1431.4,423.6 L1432.2,421.3 L1432.9,418.9 L1433.7,416.5 L1434.4,414.2 L1435.1,411.8 L1435.8,409.4 L1436.5,407.0 L1437.2,404.7 L1437.8,402.3 L1438.5,399.9 L1439.1,397.5 L1439.8,395.1 L1440.4,392.8 L1441.0,390.4 L1441.6,388.0 L1442.2,385.6 L1442.8,383.2 L1443.5,380.8 L1444.1,378.4 L1444.7,376.0 L1445.2,373.6 L1445.8,371.2 L1446.4,368.8 L1447.0,366.4 L1447.6,364.0 L1448.1,361.6 L1448.7,359.2 L1449.3,356.8 L1449.8,354.4 L1450.4,352.0 L1450.9,349.6 L1451.5,347.2 L1452.0,344.8 L1452.5,342.4 L1453.0,339.9 L1453.6,337.5 L1454.1,335.1 L1454.6,332.7 L1455.1,330.3 L1455.6,327.8 L1456.1,325.4 L1456.6,323.0 L1457.0,320.6 L1457.5,318.1 L1458.0,315.7 L1458.4,313.3 L1458.9,310.8 L1459.4,308.4 L1459.8,305.9 L1460.2,303.5 L1460.7,301.1 L1461.1,298.6 L1461.5,296.2 L1462.0,293.7 L1462.4,291.3 L1462.8,288.8 L1463.2,286.4 L1463.6,283.9 L1464.0,281.5 L1464.4,279.0 L1464.8,276.6 L1465.2,274.1 L1465.6,271.7 L1465.9,269.2 L1466.3,266.8 L1466.7,264.3 L1467.1,261.9 L1467.4,259.4 L1467.8,257.0 L1468.1,254.5 L1468.5,252.1 L1468.8,249.6 L1469.2,247.2 L1469.5,244.7 L1469.8,242.3 L1470.2,239.8 L1470.5,237.3 L1470.8,234.9 L1471.1,232.4 L1471.5,230.0 L1471.8,227.5 L1472.1,225.1 L1472.4,222.6 L1472.7,220.2 L1473.0,217.7 L1473.3,215.3 L1473.6,212.8 L1473.9,210.4 L1474.2,208.0 L1474.5,205.5 L1474.8,203.1 L1475.1,200.6 L1475.3,198.2 L1475.6,195.8 L1475.9,193.3 L1476.2,190.9 L1476.4,188.4 L1476.7,186.0 L1477.0,183.6 L1477.2,181.2 L1477.5,178.7 L1477.8,176.3 L1478.0,173.9 L1478.3,171.4 L1478.6,169.0 L1478.8,166.6 L1479.1,164.2 L1479.3,161.8 L1479.6,159.4 L1479.8,157.0 L1480.1,154.5 L1480.3,152.1 L1480.6,149.7 L1480.8,147.3 L1481.1,144.9 L1481.4,142.5 L1481.7,140.0 L1482.0,137.6 L1482.3,135.2 L1482.6,132.7 L1482.9,130.3 L1483.3,127.8 L1483.6,125.4 L1484.0,122.9 L1484.4,120.4 L1484.8,118.0 L1485.2,115.5 L1485.7,112.9 L1486.2,110.4 L1486.7,107.9 L1487.2,105.3 L1487.7,102.8 L1488.3,100.2 L1488.9,97.6 L1489.5,95.0 L1490.2,92.4 L1490.9,89.7 L1491.6,87.1 L1492.4,84.6 L1493.2,82.4 L1494.1,80.9 L1495.0,80.1 L1496.0,80.4 L1497.0,81.5 L1498.0,83.4 L1499.1,85.8 L1500.0,88.4 L1500.9,91.1 L1501.6,93.7 L1502.3,96.3 L1502.9,98.9 L1503.4,101.4 L1503.9,103.9 L1504.2,106.4 L1504.6,108.9 L1504.9,111.3 L1505.2,113.7 L1505.4,116.2 L1505.7,118.6 L1505.9,121.0 L1506.2,123.4 L1506.5,125.8 L1506.7,128.3 L1507.0,130.7 L1507.3,133.1 L1507.6,135.6 L1507.8,138.0 L1508.1,140.4 L1508.4,142.9 L1508.7,145.3 L1509.0,147.8 L1509.3,150.2 L1509.6,152.7 L1509.9,155.1 L1510.2,157.6 L1510.5,160.0 L1510.8,162.5 L1511.1,164.9 L1511.4,167.4 L1511.7,169.8 L1511.9,172.3 L1512.2,174.7 L1512.5,177.2 L1512.8,179.6 L1513.0,182.1 L1513.3,184.5 L1513.6,187.0 L1513.9,189.4 L1514.1,191.9 L1514.4,194.3 L1514.7,196.8 L1514.9,199.2 L1515.2,201.7 L1515.4,204.1 L1515.7,206.6 L1516.0,209.0 L1516.2,211.5 L1516.5,213.9 L1516.7,216.4 L1517.0,218.8 L1517.2,221.3 L1517.5,223.7 L1517.8,226.2 L1518.0,228.6 L1518.3,231.1 L1518.5,233.5 L1518.8,236.0 L1519.0,238.4 L1519.3,240.9 L1519.6,243.3 L1519.8,245.7 L1520.1,248.2 L1520.3,250.6 L1520.6,253.1 L1520.9,255.5 L1521.1,258.0 L1521.4,260.4 L1521.7,262.9 L1521.9,265.3 L1522.2,267.8 L1522.5,270.2 L1522.8,272.7 L1523.0,275.1 L1523.3,277.6 L1523.6,280.0 L1523.9,282.5 L1524.2,284.9 L1524.4,287.4 L1524.7,289.8 L1525.0,292.3 L1525.3,294.7 L1525.6,297.2 L1525.9,299.6 L1526.2,302.1 L1526.5,304.5 L1526.8,307.0 L1527.1,309.4 L1527.4,311.9 L1527.7,314.3 L1528.1,316.8 L1528.4,319.2 L1528.7,321.6 L1529.0,324.1 L1529.3,326.5 L1529.7,329.0 L1530.0,331.4 L1530.3,333.9 L1530.6,336.3 L1531.0,338.8 L1531.3,341.2 L1531.7,343.7 L1532.0,346.1 L1532.4,348.6 L1532.7,351.0 L1533.1,353.4 L1533.4,355.9 L1533.8,358.3 L1534.1,360.8 L1534.5,363.2 L1534.9,365.7 L1535.2,368.1 L1535.6,370.5 L1536.0,373.0 L1536.4,375.4 L1536.7,377.9 L1537.1,380.3 L1537.5,382.7 L1537.9,385.2 L1538.3,387.6 L1538.7,390.0 L1539.1,392.5 L1539.5,394.9 L1539.9,397.3 L1540.3,399.8 L1540.8,402.2 L1541.2,404.6 L1541.6,407.1 L1542.0,409.5 L1542.5,411.9 L1542.9,414.4 L1543.4,416.8 L1543.8,419.2 L1544.3,421.6 L1544.8,424.1 L1545.3,426.5 L1545.8,428.9 L1546.3,431.3 L1546.8,433.7 L1547.3,436.1 L1547.8,438.6 L1548.4,441.0 L1548.9,443.4 L1549.5,445.8 L1550.0,448.2 L1550.6,450.6 L1551.2,453.0 L1551.8,455.4 L1552.4,457.8 L1553.1,460.2 L1553.7,462.6 L1554.4,465.0 L1555.1,467.4 L1555.7,469.8 L1556.4,472.2 L1557.2,474.5 L1557.9,476.9 L1558.6,479.3 L1559.4,481.7 L1560.2,484.1 L1561.0,486.4 L1561.8,488.8 L1562.6,491.2 L1563.5,493.5 L1564.4,495.9 L1565.3,498.2 L1566.2,500.6 L1567.1,502.9 L1568.0,505.3 L1569.0,507.6 L1570.0,510.0 L1571.0,512.3 L1572.0,514.6 L1573.1,517.0 L1574.2,519.3 L1575.3,521.6 L1576.4,523.9 L1577.5,526.2 L1578.7,528.5 L1579.9,530.8 L1581.1,533.1 L1582.3,535.3 L1583.6,537.6 L1584.9,539.8 L1586.2,542.1 L1587.5,544.3 L1588.9,546.5 L1590.3,548.7 L1591.7,550.9 L1593.1,553.0 L1594.6,555.2 L1596.1,557.3 L1597.6,559.4 L1599.2,561.5 L1600.8,563.6 L1602.4,565.7 L1604.0,567.7 L1605.7,569.8 L1607.4,571.8 L1609.1,573.8 L1610.9,575.7 L1612.7,577.7 L1614.5,579.6 L1616.3,581.5 L1618.2,583.3 L1620.1,585.2 L1622.1,587.0 L1624.1,588.8 L1626.1,590.6 L1628.1,592.3 L1630.2,594.0 L1632.3,595.7 L1634.5,597.4 L1636.7,599.0 L1638.9,600.6 L1641.2,602.2 L1643.4,603.7 L1645.8,605.2 L1648.1,606.7 L1650.5,608.2 L1652.9,609.6 L1655.4,611.0 L1657.9,612.4 L1660.4,613.7 L1662.9,615.0 L1665.5,616.3 L1668.1,617.6 L1670.7,618.8 L1673.3,620.0 L1676.0,621.2 L1678.6,622.3 L1681.3,623.5 L1684.1,624.6 L1686.8,625.6 L1689.5,626.7 L1692.3,627.7 L1695.1,628.7 L1697.9,629.7 L1700.7,630.7 L1703.5,631.6 L1706.4,632.5 L1709.2,633.4 L1712.1,634.3 L1714.9,635.2 L1717.8,636.0 L1720.7,636.8 L1723.6,637.6 L1726.5,638.4 L1729.4,639.1 L1732.3,639.9 L1735.2,640.6 L1738.1,641.3 L1741.0,642.0 L1743.9,642.6 L1746.8,643.3 L1749.7,643.9 L1752.6,644.5 L1755.6,645.1 L1758.5,645.7 L1761.4,646.3 L1764.3,646.8 L1767.2,647.3 L1770.1,647.9 L1773.0,648.4 L1775.9,648.9 L1778.9,649.3 L1781.8,649.8 L1784.7,650.2 L1787.6,650.7 L1790.5,651.1 L1793.5,651.5 L1796.4,651.9 L1799.3,652.3 L1802.3,652.7 L1805.2,653.1 L1808.1,653.4 L1811.0,653.8 L1814.0,654.1 L1816.9,654.5 L1819.9,654.8 L1822.8,655.1 L1825.8,655.4 L1828.7,655.7 L1831.7,656.0 L1834.6,656.3 L1837.6,656.5 L1840.5,656.8 L1843.5,657.1 L1846.4,657.3 L1849.4,657.6 L1852.4,657.8 L1855.4,658.1 L1858.3,658.3 L1861.3,658.6 L1864.3,658.8 L1867.3,659.0 L1870.3,659.2 L1873.3,659.4 L1876.3,659.7 L1879.3,659.9 L1882.3,660.1 L1885.3,660.3 L1888.3,660.5 L1891.3,660.7 L1894.3,660.9 L1897.4,661.1 L1900.4,661.4 L1903.4,661.6 L1906.5,661.8 L1908.0,661.9" fill="none" stroke="#edb31c" stroke-width="8.3" stroke-linejoin="round"/></g>
<rect x="298" y="144.7" width="252" height="41" rx="9" fill="#2a9cb8" fill-opacity="0.27" filter="url(#lg)"/>
<path d="M316,165.2 H535" stroke="#0a6bbd" stroke-width="9.2" stroke-linecap="round" fill="none" filter="url(#lb)"/>
<rect x="298" y="237.0" width="252" height="41" rx="9" fill="#c64434" fill-opacity="0.31" filter="url(#lg)"/>
<path d="M316,257.5 H535" stroke="#de5217" stroke-width="9.2" stroke-linecap="round" fill="none" filter="url(#lb)"/>
<rect x="298" y="329.5" width="252" height="41" rx="9" fill="#f8985f" fill-opacity="0.31" filter="url(#lg)"/>
<path d="M316,350.0 H535" stroke="#edb31c" stroke-width="9.2" stroke-linecap="round" fill="none" filter="url(#lb)"/>
<g fill="#000" stroke="#fff" stroke-width="0.5" filter="url(#tb)">
<text x="560.7" y="187.4" font-size="76.5" textLength="205.2" lengthAdjust="spacingAndGlyphs">1000N</text>
<text x="557.6" y="283.6" font-size="76.5" textLength="208.2" lengthAdjust="spacingAndGlyphs">2000N</text>
<text x="557.9" y="373.4" font-size="76.5" textLength="207.9" lengthAdjust="spacingAndGlyphs">3000N</text>
</g>
<g fill="#262626" stroke="#fff" stroke-width="0.5" filter="url(#th)">
<text x="118.0" y="90.3" font-size="76" textLength="78.7" lengthAdjust="spacingAndGlyphs">30</text>
<text x="117.3" y="351.7" font-size="76" textLength="79.4" lengthAdjust="spacingAndGlyphs">20</text>
<text x="121.3" y="611.3" font-size="76" textLength="75.3" lengthAdjust="spacingAndGlyphs">10</text>
<text x="150.8" y="873.6" font-size="76" textLength="42.4" lengthAdjust="spacingAndGlyphs">0</text>
<text x="205.0" y="927.6" font-size="76" textLength="42.4" lengthAdjust="spacingAndGlyphs">0</text>
<text x="631.2" y="927.6" font-size="76" textLength="37.4" lengthAdjust="spacingAndGlyphs">1</text>
<text x="1047.6" y="927.6" font-size="76" textLength="46.8" lengthAdjust="spacingAndGlyphs">2</text>
<text x="1476.8" y="927.6" font-size="76" textLength="40.4" lengthAdjust="spacingAndGlyphs">3</text>
<text x="1899.4" y="927.6" font-size="76" textLength="39.8" lengthAdjust="spacingAndGlyphs">4</text>
<text><tspan x="1724.4" y="1051.0" font-size="90" textLength="52.4" lengthAdjust="spacingAndGlyphs">×</tspan> <tspan x="1804.5" y="1046.3" font-size="76" textLength="79.5" lengthAdjust="spacingAndGlyphs">10</tspan><tspan x="1877.9" y="1010.6" font-size="76" textLength="41.4" lengthAdjust="spacingAndGlyphs">4</tspan></text>
</g>
<g fill="#151515" stroke="#151515" filter="url(#tb)"><text x="557.5" y="1024.6" font-size="67" textLength="664.4" lengthAdjust="spacingAndGlyphs" stroke-width="0.7">Rotational speed (r/min)</text>
<g transform="translate(72.6,836) rotate(-90)"><text x="-0.8" y="0.0" font-size="67" textLength="774.9" lengthAdjust="spacingAndGlyphs" stroke-width="1.1">Vibration displacement (μm)</text></g></g>
<text y="1165.2" font-size="81" fill="#000"><tspan x="277.0" textLength="24.6" lengthAdjust="spacingAndGlyphs">(</tspan><tspan x="302.2" font-weight="bold" textLength="46.1" lengthAdjust="spacingAndGlyphs">d</tspan><tspan x="348.8" textLength="24.6" lengthAdjust="spacingAndGlyphs">)</tspan> <tspan x="395.0" textLength="368.8" lengthAdjust="spacingAndGlyphs">Unbalance</tspan> <tspan x="784.3" textLength="307.5" lengthAdjust="spacingAndGlyphs">response</tspan> <tspan x="1110.8" textLength="193.9" lengthAdjust="spacingAndGlyphs">curve</tspan> <tspan x="1323.7" textLength="69.1" lengthAdjust="spacingAndGlyphs">of</tspan> <tspan x="1414.7" textLength="253.4" lengthAdjust="spacingAndGlyphs">turbine</tspan></text>
</svg>
</body>
</html>
